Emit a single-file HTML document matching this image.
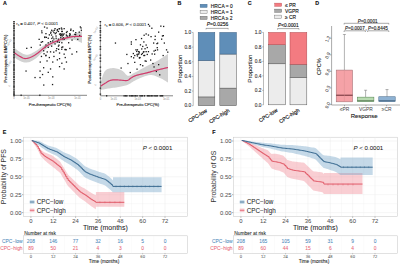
<!DOCTYPE html>
<html><head><meta charset="utf-8"><style>
html,body{margin:0;padding:0;background:#fff;overflow:hidden}
svg{display:block;font-family:"Liberation Sans", sans-serif}
</style></head><body>
<svg width="400" height="264" viewBox="0 0 400 264">
<rect width="400" height="264" fill="#fff"/>
<text x="3.0" y="4.9" font-size="5.3" fill="#111" stroke="#111" stroke-width="0.15" text-anchor="start" font-weight="bold" font-style="normal">A</text>
<text x="177.6" y="4.9" font-size="5.3" fill="#111" stroke="#111" stroke-width="0.15" text-anchor="start" font-weight="bold" font-style="normal">B</text>
<text x="247.8" y="4.9" font-size="5.3" fill="#111" stroke="#111" stroke-width="0.15" text-anchor="start" font-weight="bold" font-style="normal">C</text>
<text x="315.3" y="4.9" font-size="5.3" fill="#111" stroke="#111" stroke-width="0.15" text-anchor="start" font-weight="bold" font-style="normal">D</text>
<text x="2.8" y="134.4" font-size="5.3" fill="#111" stroke="#111" stroke-width="0.15" text-anchor="start" font-weight="bold" font-style="normal">E</text>
<text x="212.3" y="134.0" font-size="5.3" fill="#111" stroke="#111" stroke-width="0.15" text-anchor="start" font-weight="bold" font-style="normal">F</text>
<path d="M14.0,47.5 L14.46,47.86 L15.05,48.35 L15.77,48.93 L16.56,49.57 L17.41,50.24 L18.29,50.89 L19.16,51.49 L20.0,52.0 L20.82,52.47 L21.66,52.96 L22.51,53.44 L23.38,53.89 L24.26,54.27 L25.16,54.57 L26.07,54.75 L27.0,54.8 L27.92,54.71 L28.82,54.53 L29.73,54.24 L30.66,53.86 L31.63,53.39 L32.66,52.83 L33.78,52.2 L35.0,51.5 L36.35,50.66 L37.81,49.66 L39.36,48.55 L40.97,47.37 L42.61,46.17 L44.27,45.01 L45.91,43.94 L47.5,43.0 L49.06,42.18 L50.62,41.42 L52.19,40.72 L53.75,40.08 L55.31,39.47 L56.88,38.89 L58.44,38.34 L60.0,37.8 L61.58,37.3 L63.2,36.85 L64.82,36.43 L66.44,36.04 L68.03,35.67 L69.59,35.29 L71.08,34.91 L72.5,34.5 L73.9,34.05 L75.31,33.56 L76.7,33.05 L78.03,32.54 L79.27,32.06 L80.36,31.63 L81.29,31.27 L82,31 L82,43 L81.29,42.69 L80.36,42.23 L79.27,41.68 L78.03,41.09 L76.7,40.53 L75.31,40.04 L73.9,39.67 L72.5,39.5 L71.08,39.5 L69.59,39.62 L68.03,39.84 L66.44,40.16 L64.82,40.54 L63.2,40.99 L61.58,41.48 L60.0,42.0 L58.44,42.55 L56.88,43.14 L55.31,43.77 L53.75,44.47 L52.19,45.23 L50.62,46.07 L49.06,46.99 L47.5,48.0 L45.91,49.19 L44.27,50.57 L42.61,52.09 L40.97,53.66 L39.36,55.2 L37.81,56.66 L36.35,57.95 L35.0,59.0 L33.78,59.83 L32.66,60.52 L31.63,61.08 L30.66,61.53 L29.73,61.88 L28.82,62.15 L27.92,62.35 L27.0,62.5 L26.07,62.57 L25.16,62.54 L24.26,62.41 L23.38,62.22 L22.51,61.97 L21.66,61.67 L20.82,61.34 L20.0,61.0 L19.16,60.59 L18.29,60.08 L17.41,59.51 L16.56,58.91 L15.77,58.32 L15.05,57.78 L14.46,57.33 L14.0,57.0 Z" fill="#d2d2d2"/>
<rect x="46.4" y="27.4" width="1.3" height="1.3" fill="#1a1a1a" stroke="none" stroke-width="0.4"/>
<rect x="51.0" y="29.6" width="1.3" height="1.3" fill="#1a1a1a" stroke="none" stroke-width="0.4"/>
<rect x="54.4" y="28.0" width="1.3" height="1.3" fill="#1a1a1a" stroke="none" stroke-width="0.4"/>
<rect x="56.7" y="28.9" width="1.3" height="1.3" fill="#1a1a1a" stroke="none" stroke-width="0.4"/>
<rect x="58.9" y="28.0" width="1.3" height="1.3" fill="#1a1a1a" stroke="none" stroke-width="0.4"/>
<rect x="61.2" y="28.5" width="1.3" height="1.3" fill="#1a1a1a" stroke="none" stroke-width="0.4"/>
<rect x="63.5" y="28.0" width="1.3" height="1.3" fill="#1a1a1a" stroke="none" stroke-width="0.4"/>
<rect x="53.3" y="31.9" width="1.3" height="1.3" fill="#1a1a1a" stroke="none" stroke-width="0.4"/>
<rect x="57.8" y="30.8" width="1.3" height="1.3" fill="#1a1a1a" stroke="none" stroke-width="0.4"/>
<rect x="61.2" y="30.8" width="1.3" height="1.3" fill="#1a1a1a" stroke="none" stroke-width="0.4"/>
<rect x="65.8" y="31.9" width="1.3" height="1.3" fill="#1a1a1a" stroke="none" stroke-width="0.4"/>
<rect x="70.3" y="28.5" width="1.3" height="1.3" fill="#1a1a1a" stroke="none" stroke-width="0.4"/>
<rect x="45.3" y="33.0" width="1.3" height="1.3" fill="#1a1a1a" stroke="none" stroke-width="0.4"/>
<rect x="48.7" y="34.2" width="1.3" height="1.3" fill="#1a1a1a" stroke="none" stroke-width="0.4"/>
<rect x="58.9" y="33.5" width="1.3" height="1.3" fill="#1a1a1a" stroke="none" stroke-width="0.4"/>
<rect x="62.4" y="34.2" width="1.3" height="1.3" fill="#1a1a1a" stroke="none" stroke-width="0.4"/>
<rect x="69.2" y="33.0" width="1.3" height="1.3" fill="#1a1a1a" stroke="none" stroke-width="0.4"/>
<rect x="44.2" y="36.4" width="1.3" height="1.3" fill="#1a1a1a" stroke="none" stroke-width="0.4"/>
<rect x="47.6" y="37.6" width="1.3" height="1.3" fill="#1a1a1a" stroke="none" stroke-width="0.4"/>
<rect x="52.1" y="36.4" width="1.3" height="1.3" fill="#1a1a1a" stroke="none" stroke-width="0.4"/>
<rect x="55.5" y="37.6" width="1.3" height="1.3" fill="#1a1a1a" stroke="none" stroke-width="0.4"/>
<rect x="60.1" y="37.1" width="1.3" height="1.3" fill="#1a1a1a" stroke="none" stroke-width="0.4"/>
<rect x="63.5" y="38.7" width="1.3" height="1.3" fill="#1a1a1a" stroke="none" stroke-width="0.4"/>
<rect x="66.9" y="36.4" width="1.3" height="1.3" fill="#1a1a1a" stroke="none" stroke-width="0.4"/>
<rect x="71.4" y="39.4" width="1.3" height="1.3" fill="#1a1a1a" stroke="none" stroke-width="0.4"/>
<rect x="77.1" y="38.7" width="1.3" height="1.3" fill="#1a1a1a" stroke="none" stroke-width="0.4"/>
<rect x="41.9" y="41.0" width="1.3" height="1.3" fill="#1a1a1a" stroke="none" stroke-width="0.4"/>
<rect x="49.9" y="41.0" width="1.3" height="1.3" fill="#1a1a1a" stroke="none" stroke-width="0.4"/>
<rect x="56.7" y="41.0" width="1.3" height="1.3" fill="#1a1a1a" stroke="none" stroke-width="0.4"/>
<rect x="61.2" y="42.1" width="1.3" height="1.3" fill="#1a1a1a" stroke="none" stroke-width="0.4"/>
<rect x="68.0" y="42.1" width="1.3" height="1.3" fill="#1a1a1a" stroke="none" stroke-width="0.4"/>
<rect x="38.5" y="38.7" width="1.3" height="1.3" fill="#1a1a1a" stroke="none" stroke-width="0.4"/>
<rect x="39.6" y="44.4" width="1.3" height="1.3" fill="#1a1a1a" stroke="none" stroke-width="0.4"/>
<rect x="45.3" y="44.4" width="1.3" height="1.3" fill="#1a1a1a" stroke="none" stroke-width="0.4"/>
<rect x="47.6" y="46.7" width="1.3" height="1.3" fill="#1a1a1a" stroke="none" stroke-width="0.4"/>
<rect x="51.0" y="45.5" width="1.3" height="1.3" fill="#1a1a1a" stroke="none" stroke-width="0.4"/>
<rect x="54.4" y="43.3" width="1.3" height="1.3" fill="#1a1a1a" stroke="none" stroke-width="0.4"/>
<rect x="57.8" y="45.5" width="1.3" height="1.3" fill="#1a1a1a" stroke="none" stroke-width="0.4"/>
<rect x="61.2" y="46.7" width="1.3" height="1.3" fill="#1a1a1a" stroke="none" stroke-width="0.4"/>
<rect x="64.6" y="48.9" width="1.3" height="1.3" fill="#1a1a1a" stroke="none" stroke-width="0.4"/>
<rect x="69.2" y="47.8" width="1.3" height="1.3" fill="#1a1a1a" stroke="none" stroke-width="0.4"/>
<rect x="43.0" y="50.1" width="1.3" height="1.3" fill="#1a1a1a" stroke="none" stroke-width="0.4"/>
<rect x="49.9" y="51.2" width="1.3" height="1.3" fill="#1a1a1a" stroke="none" stroke-width="0.4"/>
<rect x="55.5" y="50.1" width="1.3" height="1.3" fill="#1a1a1a" stroke="none" stroke-width="0.4"/>
<rect x="58.9" y="52.4" width="1.3" height="1.3" fill="#1a1a1a" stroke="none" stroke-width="0.4"/>
<rect x="63.5" y="53.5" width="1.3" height="1.3" fill="#1a1a1a" stroke="none" stroke-width="0.4"/>
<rect x="71.4" y="53.5" width="1.3" height="1.3" fill="#1a1a1a" stroke="none" stroke-width="0.4"/>
<rect x="76.0" y="51.2" width="1.3" height="1.3" fill="#1a1a1a" stroke="none" stroke-width="0.4"/>
<rect x="40.8" y="55.8" width="1.3" height="1.3" fill="#1a1a1a" stroke="none" stroke-width="0.4"/>
<rect x="45.3" y="54.6" width="1.3" height="1.3" fill="#1a1a1a" stroke="none" stroke-width="0.4"/>
<rect x="48.7" y="56.9" width="1.3" height="1.3" fill="#1a1a1a" stroke="none" stroke-width="0.4"/>
<rect x="53.3" y="55.8" width="1.3" height="1.3" fill="#1a1a1a" stroke="none" stroke-width="0.4"/>
<rect x="58.9" y="58.0" width="1.3" height="1.3" fill="#1a1a1a" stroke="none" stroke-width="0.4"/>
<rect x="64.6" y="56.9" width="1.3" height="1.3" fill="#1a1a1a" stroke="none" stroke-width="0.4"/>
<rect x="46.4" y="60.3" width="1.3" height="1.3" fill="#1a1a1a" stroke="none" stroke-width="0.4"/>
<rect x="52.1" y="61.4" width="1.3" height="1.3" fill="#1a1a1a" stroke="none" stroke-width="0.4"/>
<rect x="61.2" y="62.6" width="1.3" height="1.3" fill="#1a1a1a" stroke="none" stroke-width="0.4"/>
<rect x="65.8" y="61.4" width="1.3" height="1.3" fill="#1a1a1a" stroke="none" stroke-width="0.4"/>
<rect x="39.6" y="61.4" width="1.3" height="1.3" fill="#1a1a1a" stroke="none" stroke-width="0.4"/>
<rect x="56.7" y="59.2" width="1.3" height="1.3" fill="#1a1a1a" stroke="none" stroke-width="0.4"/>
<rect x="43.0" y="67.1" width="1.3" height="1.3" fill="#1a1a1a" stroke="none" stroke-width="0.4"/>
<rect x="49.9" y="68.3" width="1.3" height="1.3" fill="#1a1a1a" stroke="none" stroke-width="0.4"/>
<rect x="58.9" y="66.0" width="1.3" height="1.3" fill="#1a1a1a" stroke="none" stroke-width="0.4"/>
<rect x="41.9" y="73.9" width="1.3" height="1.3" fill="#1a1a1a" stroke="none" stroke-width="0.4"/>
<rect x="47.6" y="71.7" width="1.3" height="1.3" fill="#1a1a1a" stroke="none" stroke-width="0.4"/>
<rect x="52.1" y="76.2" width="1.3" height="1.3" fill="#1a1a1a" stroke="none" stroke-width="0.4"/>
<rect x="63.5" y="68.3" width="1.3" height="1.3" fill="#1a1a1a" stroke="none" stroke-width="0.4"/>
<rect x="55.4" y="35.4" width="1.3" height="1.3" fill="#1a1a1a" stroke="none" stroke-width="0.4"/>
<rect x="55.6" y="32.1" width="1.3" height="1.3" fill="#1a1a1a" stroke="none" stroke-width="0.4"/>
<rect x="50.0" y="32.5" width="1.3" height="1.3" fill="#1a1a1a" stroke="none" stroke-width="0.4"/>
<rect x="66.3" y="35.1" width="1.3" height="1.3" fill="#1a1a1a" stroke="none" stroke-width="0.4"/>
<rect x="65.7" y="34.4" width="1.3" height="1.3" fill="#1a1a1a" stroke="none" stroke-width="0.4"/>
<rect x="60.6" y="34.1" width="1.3" height="1.3" fill="#1a1a1a" stroke="none" stroke-width="0.4"/>
<rect x="44.1" y="36.8" width="1.3" height="1.3" fill="#1a1a1a" stroke="none" stroke-width="0.4"/>
<rect x="61.5" y="35.4" width="1.3" height="1.3" fill="#1a1a1a" stroke="none" stroke-width="0.4"/>
<rect x="43.9" y="26.4" width="1.3" height="1.3" fill="#1a1a1a" stroke="none" stroke-width="0.4"/>
<rect x="50.3" y="31.5" width="1.3" height="1.3" fill="#1a1a1a" stroke="none" stroke-width="0.4"/>
<rect x="59.8" y="33.2" width="1.3" height="1.3" fill="#1a1a1a" stroke="none" stroke-width="0.4"/>
<rect x="61.6" y="30.8" width="1.3" height="1.3" fill="#1a1a1a" stroke="none" stroke-width="0.4"/>
<rect x="59.9" y="35.0" width="1.3" height="1.3" fill="#1a1a1a" stroke="none" stroke-width="0.4"/>
<rect x="52.1" y="40.3" width="1.3" height="1.3" fill="#1a1a1a" stroke="none" stroke-width="0.4"/>
<rect x="61.9" y="38.2" width="1.3" height="1.3" fill="#1a1a1a" stroke="none" stroke-width="0.4"/>
<rect x="52.4" y="30.4" width="1.3" height="1.3" fill="#1a1a1a" stroke="none" stroke-width="0.4"/>
<rect x="54.6" y="33.0" width="1.3" height="1.3" fill="#1a1a1a" stroke="none" stroke-width="0.4"/>
<rect x="62.5" y="34.4" width="1.3" height="1.3" fill="#1a1a1a" stroke="none" stroke-width="0.4"/>
<rect x="53.8" y="29.6" width="1.3" height="1.3" fill="#1a1a1a" stroke="none" stroke-width="0.4"/>
<rect x="53.2" y="38.3" width="1.3" height="1.3" fill="#1a1a1a" stroke="none" stroke-width="0.4"/>
<rect x="50.9" y="34.4" width="1.3" height="1.3" fill="#1a1a1a" stroke="none" stroke-width="0.4"/>
<rect x="60.8" y="27.4" width="1.3" height="1.3" fill="#1a1a1a" stroke="none" stroke-width="0.4"/>
<rect x="57.8" y="38.6" width="1.3" height="1.3" fill="#1a1a1a" stroke="none" stroke-width="0.4"/>
<rect x="41.3" y="32.1" width="1.3" height="1.3" fill="#1a1a1a" stroke="none" stroke-width="0.4"/>
<rect x="56.6" y="30.1" width="1.3" height="1.3" fill="#1a1a1a" stroke="none" stroke-width="0.4"/>
<rect x="61.4" y="33.2" width="1.3" height="1.3" fill="#1a1a1a" stroke="none" stroke-width="0.4"/>
<rect x="45.7" y="36.7" width="1.3" height="1.3" fill="#1a1a1a" stroke="none" stroke-width="0.4"/>
<rect x="62.8" y="37.2" width="1.3" height="1.3" fill="#1a1a1a" stroke="none" stroke-width="0.4"/>
<rect x="68.9" y="34.8" width="1.3" height="1.3" fill="#1a1a1a" stroke="none" stroke-width="0.4"/>
<rect x="58.4" y="28.2" width="1.3" height="1.3" fill="#1a1a1a" stroke="none" stroke-width="0.4"/>
<rect x="58.7" y="41.7" width="1.3" height="1.3" fill="#1a1a1a" stroke="none" stroke-width="0.4"/>
<rect x="51.2" y="37.8" width="1.3" height="1.3" fill="#1a1a1a" stroke="none" stroke-width="0.4"/>
<rect x="47.6" y="42.2" width="1.3" height="1.3" fill="#1a1a1a" stroke="none" stroke-width="0.4"/>
<rect x="63.4" y="33.2" width="1.3" height="1.3" fill="#1a1a1a" stroke="none" stroke-width="0.4"/>
<rect x="44.2" y="46.8" width="1.3" height="1.3" fill="#1a1a1a" stroke="none" stroke-width="0.4"/>
<rect x="64.5" y="48.9" width="1.3" height="1.3" fill="#1a1a1a" stroke="none" stroke-width="0.4"/>
<rect x="41.1" y="30.3" width="1.3" height="1.3" fill="#1a1a1a" stroke="none" stroke-width="0.4"/>
<rect x="56.9" y="41.0" width="1.3" height="1.3" fill="#1a1a1a" stroke="none" stroke-width="0.4"/>
<rect x="46.6" y="51.3" width="1.3" height="1.3" fill="#1a1a1a" stroke="none" stroke-width="0.4"/>
<rect x="62.1" y="46.3" width="1.3" height="1.3" fill="#1a1a1a" stroke="none" stroke-width="0.4"/>
<rect x="56.1" y="48.0" width="1.3" height="1.3" fill="#1a1a1a" stroke="none" stroke-width="0.4"/>
<rect x="65.6" y="49.1" width="1.3" height="1.3" fill="#1a1a1a" stroke="none" stroke-width="0.4"/>
<rect x="58.0" y="48.7" width="1.3" height="1.3" fill="#1a1a1a" stroke="none" stroke-width="0.4"/>
<rect x="43.4" y="53.1" width="1.3" height="1.3" fill="#1a1a1a" stroke="none" stroke-width="0.4"/>
<rect x="61.1" y="48.6" width="1.3" height="1.3" fill="#1a1a1a" stroke="none" stroke-width="0.4"/>
<rect x="40.6" y="41.6" width="1.3" height="1.3" fill="#1a1a1a" stroke="none" stroke-width="0.4"/>
<rect x="60.3" y="34.5" width="1.3" height="1.3" fill="#1a1a1a" stroke="none" stroke-width="0.4"/>
<rect x="53.1" y="51.5" width="1.3" height="1.3" fill="#1a1a1a" stroke="none" stroke-width="0.4"/>
<rect x="45.2" y="55.1" width="1.3" height="1.3" fill="#1a1a1a" stroke="none" stroke-width="0.4"/>
<rect x="58.3" y="44.5" width="1.3" height="1.3" fill="#1a1a1a" stroke="none" stroke-width="0.4"/>
<rect x="75.0" y="34.0" width="1.3" height="1.3" fill="#1a1a1a" stroke="none" stroke-width="0.4"/>
<rect x="74.0" y="36.0" width="1.3" height="1.3" fill="#1a1a1a" stroke="none" stroke-width="0.4"/>
<rect x="70.1" y="29.7" width="1.3" height="1.3" fill="#1a1a1a" stroke="none" stroke-width="0.4"/>
<rect x="78.6" y="31.5" width="1.3" height="1.3" fill="#1a1a1a" stroke="none" stroke-width="0.4"/>
<rect x="69.0" y="35.2" width="1.3" height="1.3" fill="#1a1a1a" stroke="none" stroke-width="0.4"/>
<rect x="80.7" y="29.6" width="1.3" height="1.3" fill="#1a1a1a" stroke="none" stroke-width="0.4"/>
<rect x="66.5" y="30.9" width="1.3" height="1.3" fill="#1a1a1a" stroke="none" stroke-width="0.4"/>
<rect x="72.7" y="30.2" width="1.3" height="1.3" fill="#1a1a1a" stroke="none" stroke-width="0.4"/>
<rect x="80.4" y="27.3" width="1.3" height="1.3" fill="#1a1a1a" stroke="none" stroke-width="0.4"/>
<rect x="79.7" y="26.3" width="1.3" height="1.3" fill="#1a1a1a" stroke="none" stroke-width="0.4"/>
<rect x="69.5" y="33.9" width="1.3" height="1.3" fill="#1a1a1a" stroke="none" stroke-width="0.4"/>
<rect x="79.0" y="34.8" width="1.3" height="1.3" fill="#1a1a1a" stroke="none" stroke-width="0.4"/>
<rect x="75.1" y="32.0" width="1.3" height="1.3" fill="#1a1a1a" stroke="none" stroke-width="0.4"/>
<rect x="74.2" y="33.7" width="1.3" height="1.3" fill="#1a1a1a" stroke="none" stroke-width="0.4"/>
<rect x="26.1" y="47.7" width="1.3" height="1.3" fill="#1a1a1a" stroke="none" stroke-width="0.4"/>
<rect x="30.6" y="46.8" width="1.3" height="1.3" fill="#1a1a1a" stroke="none" stroke-width="0.4"/>
<rect x="25.4" y="70.4" width="1.3" height="1.3" fill="#1a1a1a" stroke="none" stroke-width="0.4"/>
<rect x="34.4" y="76.9" width="1.3" height="1.3" fill="#1a1a1a" stroke="none" stroke-width="0.4"/>
<rect x="39.4" y="70.4" width="1.3" height="1.3" fill="#1a1a1a" stroke="none" stroke-width="0.4"/>
<rect x="39.4" y="76.9" width="1.3" height="1.3" fill="#1a1a1a" stroke="none" stroke-width="0.4"/>
<rect x="43.1" y="84.4" width="1.3" height="1.3" fill="#1a1a1a" stroke="none" stroke-width="0.4"/>
<rect x="51.9" y="83.9" width="1.3" height="1.3" fill="#1a1a1a" stroke="none" stroke-width="0.4"/>
<path d="M14.0,52.5 L14.46,52.82 L15.08,53.27 L15.81,53.79 L16.62,54.38 L17.49,54.97 L18.36,55.55 L19.21,56.07 L20.0,56.5 L20.73,56.88 L21.43,57.27 L22.12,57.64 L22.81,57.97 L23.53,58.24 L24.29,58.43 L25.11,58.53 L26.0,58.5 L26.96,58.37 L27.96,58.15 L29.0,57.85 L30.09,57.47 L31.24,56.99 L32.43,56.43 L33.69,55.76 L35.0,55.0 L36.4,54.07 L37.88,52.96 L39.43,51.71 L41.03,50.39 L42.66,49.05 L44.29,47.75 L45.91,46.55 L47.5,45.5 L49.06,44.59 L50.62,43.75 L52.19,42.97 L53.75,42.25 L55.31,41.58 L56.88,40.95 L58.44,40.36 L60.0,39.8 L61.58,39.27 L63.2,38.78 L64.82,38.33 L66.44,37.92 L68.03,37.55 L69.59,37.22 L71.08,36.94 L72.5,36.7 L73.9,36.52 L75.31,36.4 L76.7,36.33 L78.03,36.31 L79.27,36.3 L80.36,36.31 L81.29,36.31 L82,36.3" fill="none" stroke="#d0386a" stroke-width="1.2"/>
<rect x="13.25" y="21" width="1.5" height="1.3" fill="#1e1e1e" stroke="none" stroke-width="0.4"/>
<rect x="13.25" y="23" width="1.5" height="1.3" fill="#1e1e1e" stroke="none" stroke-width="0.4"/>
<rect x="13.25" y="25" width="1.5" height="1.3" fill="#1e1e1e" stroke="none" stroke-width="0.4"/>
<rect x="13.25" y="26.3" width="1.5" height="1.3" fill="#1e1e1e" stroke="none" stroke-width="0.4"/>
<rect x="13.25" y="27.8" width="1.5" height="1.3" fill="#1e1e1e" stroke="none" stroke-width="0.4"/>
<rect x="13.25" y="29.8" width="1.5" height="1.3" fill="#1e1e1e" stroke="none" stroke-width="0.4"/>
<rect x="13.25" y="31.3" width="1.5" height="1.3" fill="#1e1e1e" stroke="none" stroke-width="0.4"/>
<rect x="13.25" y="33.3" width="1.5" height="1.3" fill="#1e1e1e" stroke="none" stroke-width="0.4"/>
<rect x="13.25" y="34.6" width="1.5" height="1.3" fill="#1e1e1e" stroke="none" stroke-width="0.4"/>
<rect x="13.25" y="36.6" width="1.5" height="1.3" fill="#1e1e1e" stroke="none" stroke-width="0.4"/>
<rect x="13.25" y="37.9" width="1.5" height="1.3" fill="#1e1e1e" stroke="none" stroke-width="0.4"/>
<rect x="13.25" y="39.4" width="1.5" height="1.3" fill="#1e1e1e" stroke="none" stroke-width="0.4"/>
<rect x="13.25" y="41.4" width="1.5" height="1.3" fill="#1e1e1e" stroke="none" stroke-width="0.4"/>
<rect x="13.25" y="42.7" width="1.5" height="1.3" fill="#1e1e1e" stroke="none" stroke-width="0.4"/>
<rect x="13.25" y="44.2" width="1.5" height="1.3" fill="#1e1e1e" stroke="none" stroke-width="0.4"/>
<rect x="13.25" y="45.5" width="1.5" height="1.3" fill="#1e1e1e" stroke="none" stroke-width="0.4"/>
<rect x="13.25" y="47.0" width="1.5" height="1.3" fill="#1e1e1e" stroke="none" stroke-width="0.4"/>
<rect x="13.25" y="49.0" width="1.5" height="1.3" fill="#1e1e1e" stroke="none" stroke-width="0.4"/>
<rect x="13.25" y="50.5" width="1.5" height="1.3" fill="#1e1e1e" stroke="none" stroke-width="0.4"/>
<rect x="13.25" y="51.8" width="1.5" height="1.3" fill="#1e1e1e" stroke="none" stroke-width="0.4"/>
<rect x="13.25" y="53.8" width="1.5" height="1.3" fill="#1e1e1e" stroke="none" stroke-width="0.4"/>
<rect x="13.25" y="55.3" width="1.5" height="1.3" fill="#1e1e1e" stroke="none" stroke-width="0.4"/>
<rect x="13.25" y="56.8" width="1.5" height="1.3" fill="#1e1e1e" stroke="none" stroke-width="0.4"/>
<rect x="13.25" y="58.3" width="1.5" height="1.3" fill="#1e1e1e" stroke="none" stroke-width="0.4"/>
<rect x="13.25" y="60.3" width="1.5" height="1.3" fill="#1e1e1e" stroke="none" stroke-width="0.4"/>
<rect x="13.25" y="61.6" width="1.5" height="1.3" fill="#1e1e1e" stroke="none" stroke-width="0.4"/>
<rect x="13.25" y="63.6" width="1.5" height="1.3" fill="#1e1e1e" stroke="none" stroke-width="0.4"/>
<rect x="13.25" y="64.9" width="1.5" height="1.3" fill="#1e1e1e" stroke="none" stroke-width="0.4"/>
<rect x="13.25" y="66.2" width="1.5" height="1.3" fill="#1e1e1e" stroke="none" stroke-width="0.4"/>
<rect x="13.25" y="67.5" width="1.5" height="1.3" fill="#1e1e1e" stroke="none" stroke-width="0.4"/>
<rect x="13.25" y="68.8" width="1.5" height="1.3" fill="#1e1e1e" stroke="none" stroke-width="0.4"/>
<rect x="13.25" y="70.1" width="1.5" height="1.3" fill="#1e1e1e" stroke="none" stroke-width="0.4"/>
<rect x="13.25" y="72.1" width="1.5" height="1.3" fill="#1e1e1e" stroke="none" stroke-width="0.4"/>
<rect x="13.25" y="73.6" width="1.5" height="1.3" fill="#1e1e1e" stroke="none" stroke-width="0.4"/>
<rect x="13.25" y="75.6" width="1.5" height="1.3" fill="#1e1e1e" stroke="none" stroke-width="0.4"/>
<rect x="13.25" y="76.9" width="1.5" height="1.3" fill="#1e1e1e" stroke="none" stroke-width="0.4"/>
<rect x="13.25" y="78.9" width="1.5" height="1.3" fill="#1e1e1e" stroke="none" stroke-width="0.4"/>
<rect x="13.25" y="80.9" width="1.5" height="1.3" fill="#1e1e1e" stroke="none" stroke-width="0.4"/>
<rect x="13.25" y="82.4" width="1.5" height="1.3" fill="#1e1e1e" stroke="none" stroke-width="0.4"/>
<rect x="13.25" y="84.4" width="1.5" height="1.3" fill="#1e1e1e" stroke="none" stroke-width="0.4"/>
<rect x="13.25" y="85.9" width="1.5" height="1.3" fill="#1e1e1e" stroke="none" stroke-width="0.4"/>
<rect x="13.25" y="87.2" width="1.5" height="1.3" fill="#1e1e1e" stroke="none" stroke-width="0.4"/>
<rect x="13.25" y="89.2" width="1.5" height="1.3" fill="#1e1e1e" stroke="none" stroke-width="0.4"/>
<rect x="13.25" y="91.2" width="1.5" height="1.3" fill="#1e1e1e" stroke="none" stroke-width="0.4"/>
<rect x="13.25" y="92.5" width="1.5" height="1.3" fill="#1e1e1e" stroke="none" stroke-width="0.4"/>
<rect x="13.25" y="93.8" width="1.5" height="1.3" fill="#1e1e1e" stroke="none" stroke-width="0.4"/>
<rect x="13.25" y="95.1" width="1.5" height="1.3" fill="#1e1e1e" stroke="none" stroke-width="0.4"/>
<rect x="39.2" y="94.55" width="1.3" height="1.5" fill="#262626" stroke="none" stroke-width="0.4"/>
<rect x="20.5" y="94.55" width="1.3" height="1.5" fill="#262626" stroke="none" stroke-width="0.4"/>
<line x1="14" y1="21" x2="14" y2="95.3" stroke="#444" stroke-width="0.55"/>
<line x1="14" y1="95.3" x2="87" y2="95.3" stroke="#333" stroke-width="0.6"/>
<text x="16.2" y="25.3" font-size="4.3" fill="#333" stroke="#333" stroke-width="0.06" text-anchor="start" font-weight="normal" font-style="normal">r<tspan font-size="3" dy="0.8">s</tspan><tspan dy="-0.8"> = 0.407, </tspan><tspan font-style="italic">P</tspan> &lt; 0.0001</text>
<text x="6.8" y="58.6" font-size="4.15" fill="#2a2a2a" stroke="#2a2a2a" stroke-width="0.13" text-anchor="middle" font-weight="normal" font-style="normal" transform="rotate(-90 6.8 58.6)">Pre-therapeutic BMPC(%)</text>
<text x="10" y="43" font-size="2.6" fill="#888" text-anchor="middle" font-weight="normal" font-style="normal" transform="rotate(-60 10 43)">1e+02</text>
<text x="10" y="64.5" font-size="2.6" fill="#888" text-anchor="middle" font-weight="normal" font-style="normal" transform="rotate(-60 10 64.5)">1e+00</text>
<text x="10" y="86" font-size="2.6" fill="#888" text-anchor="middle" font-weight="normal" font-style="normal" transform="rotate(-60 10 86)">0</text>
<text x="14" y="99.3" font-size="2.6" fill="#888" text-anchor="middle" font-weight="normal" font-style="normal">0</text>
<text x="26.5" y="99.3" font-size="2.6" fill="#888" text-anchor="middle" font-weight="normal" font-style="normal">1e-05</text>
<text x="51.25" y="99.3" font-size="2.6" fill="#888" text-anchor="middle" font-weight="normal" font-style="normal">1e-03</text>
<text x="77.5" y="99.3" font-size="2.6" fill="#888" text-anchor="middle" font-weight="normal" font-style="normal">1e-01</text>
<text x="50.0" y="105.89999999999999" font-size="3.95" fill="#222" stroke="#222" stroke-width="0.12" text-anchor="middle" font-weight="normal" font-style="normal">Pre-therapeutic CPC(%)</text>
<path d="M100.5,82.5 L100.83,81.55 L101.23,80.23 L101.72,78.65 L102.27,76.93 L102.88,75.19 L103.54,73.54 L104.25,72.1 L105.0,71.0 L105.8,70.19 L106.67,69.55 L107.59,69.05 L108.56,68.69 L109.57,68.43 L110.6,68.26 L111.65,68.15 L112.7,68.1 L113.79,68.12 L114.95,68.24 L116.15,68.45 L117.36,68.74 L118.55,69.09 L119.71,69.49 L120.8,69.93 L121.8,70.4 L122.7,70.97 L123.51,71.7 L124.27,72.52 L124.98,73.36 L125.67,74.17 L126.36,74.87 L127.06,75.4 L127.8,75.7 L128.51,75.78 L129.15,75.7 L129.77,75.48 L130.4,75.15 L131.09,74.72 L131.9,74.2 L132.85,73.62 L134.0,73.0 L135.41,72.27 L137.07,71.39 L138.9,70.41 L140.82,69.36 L142.77,68.3 L144.67,67.28 L146.44,66.33 L148.0,65.5 L149.35,64.81 L150.55,64.22 L151.65,63.7 L152.69,63.22 L153.7,62.74 L154.73,62.23 L155.81,61.66 L157.0,61.0 L158.35,60.2 L159.87,59.26 L161.46,58.25 L163.06,57.22 L164.59,56.22 L165.98,55.32 L167.14,54.56 L168,54 L168,82.5 L167.4,82.14 L166.61,81.66 L165.67,81.08 L164.62,80.44 L163.5,79.78 L162.33,79.12 L161.15,78.52 L160.0,78.0 L158.87,77.5 L157.73,76.96 L156.57,76.41 L155.38,75.91 L154.13,75.47 L152.83,75.15 L151.46,74.98 L150.0,75.0 L148.4,75.24 L146.65,75.69 L144.79,76.3 L142.89,77.01 L141.0,77.79 L139.19,78.58 L137.5,79.33 L136.0,80.0 L134.7,80.63 L133.56,81.27 L132.54,81.93 L131.59,82.57 L130.69,83.2 L129.78,83.79 L128.83,84.33 L127.8,84.8 L126.72,85.2 L125.63,85.55 L124.52,85.84 L123.41,86.1 L122.27,86.33 L121.11,86.55 L119.92,86.77 L118.7,87.0 L117.42,87.23 L116.06,87.45 L114.66,87.65 L113.25,87.85 L111.85,88.04 L110.49,88.23 L109.2,88.41 L108.0,88.6 L106.86,88.79 L105.72,89.0 L104.62,89.2 L103.58,89.4 L102.62,89.59 L101.77,89.75 L101.06,89.89 L100.5,90.0 Z" fill="#d2d2d2"/>
<rect x="147.8" y="23.8" width="1.3" height="1.3" fill="#1a1a1a" stroke="none" stroke-width="0.4"/>
<rect x="148.9" y="25.4" width="1.3" height="1.3" fill="#1a1a1a" stroke="none" stroke-width="0.4"/>
<rect x="151.2" y="27.6" width="1.3" height="1.3" fill="#1a1a1a" stroke="none" stroke-width="0.4"/>
<rect x="145.5" y="33.3" width="1.3" height="1.3" fill="#1a1a1a" stroke="none" stroke-width="0.4"/>
<rect x="147.8" y="34.4" width="1.3" height="1.3" fill="#1a1a1a" stroke="none" stroke-width="0.4"/>
<rect x="158.0" y="31.5" width="1.3" height="1.3" fill="#1a1a1a" stroke="none" stroke-width="0.4"/>
<rect x="154.6" y="35.6" width="1.3" height="1.3" fill="#1a1a1a" stroke="none" stroke-width="0.4"/>
<rect x="140.9" y="37.9" width="1.3" height="1.3" fill="#1a1a1a" stroke="none" stroke-width="0.4"/>
<rect x="135.3" y="39.0" width="1.3" height="1.3" fill="#1a1a1a" stroke="none" stroke-width="0.4"/>
<rect x="130.7" y="41.3" width="1.3" height="1.3" fill="#1a1a1a" stroke="none" stroke-width="0.4"/>
<rect x="143.2" y="41.3" width="1.3" height="1.3" fill="#1a1a1a" stroke="none" stroke-width="0.4"/>
<rect x="130.7" y="43.5" width="1.3" height="1.3" fill="#1a1a1a" stroke="none" stroke-width="0.4"/>
<rect x="139.8" y="44.2" width="1.3" height="1.3" fill="#1a1a1a" stroke="none" stroke-width="0.4"/>
<rect x="142.1" y="45.8" width="1.3" height="1.3" fill="#1a1a1a" stroke="none" stroke-width="0.4"/>
<rect x="144.4" y="48.1" width="1.3" height="1.3" fill="#1a1a1a" stroke="none" stroke-width="0.4"/>
<rect x="146.6" y="46.9" width="1.3" height="1.3" fill="#1a1a1a" stroke="none" stroke-width="0.4"/>
<rect x="135.3" y="49.2" width="1.3" height="1.3" fill="#1a1a1a" stroke="none" stroke-width="0.4"/>
<rect x="138.7" y="51.5" width="1.3" height="1.3" fill="#1a1a1a" stroke="none" stroke-width="0.4"/>
<rect x="143.2" y="51.0" width="1.3" height="1.3" fill="#1a1a1a" stroke="none" stroke-width="0.4"/>
<rect x="145.5" y="51.0" width="1.3" height="1.3" fill="#1a1a1a" stroke="none" stroke-width="0.4"/>
<rect x="147.8" y="51.0" width="1.3" height="1.3" fill="#1a1a1a" stroke="none" stroke-width="0.4"/>
<rect x="136.4" y="53.8" width="1.3" height="1.3" fill="#1a1a1a" stroke="none" stroke-width="0.4"/>
<rect x="140.9" y="53.8" width="1.3" height="1.3" fill="#1a1a1a" stroke="none" stroke-width="0.4"/>
<rect x="134.1" y="54.9" width="1.3" height="1.3" fill="#1a1a1a" stroke="none" stroke-width="0.4"/>
<rect x="130.7" y="56.0" width="1.3" height="1.3" fill="#1a1a1a" stroke="none" stroke-width="0.4"/>
<rect x="133.0" y="57.2" width="1.3" height="1.3" fill="#1a1a1a" stroke="none" stroke-width="0.4"/>
<rect x="138.7" y="57.2" width="1.3" height="1.3" fill="#1a1a1a" stroke="none" stroke-width="0.4"/>
<rect x="143.2" y="54.9" width="1.3" height="1.3" fill="#1a1a1a" stroke="none" stroke-width="0.4"/>
<rect x="146.6" y="53.8" width="1.3" height="1.3" fill="#1a1a1a" stroke="none" stroke-width="0.4"/>
<rect x="153.4" y="50.4" width="1.3" height="1.3" fill="#1a1a1a" stroke="none" stroke-width="0.4"/>
<rect x="156.9" y="49.2" width="1.3" height="1.3" fill="#1a1a1a" stroke="none" stroke-width="0.4"/>
<rect x="163.7" y="42.4" width="1.3" height="1.3" fill="#1a1a1a" stroke="none" stroke-width="0.4"/>
<rect x="165.9" y="49.2" width="1.3" height="1.3" fill="#1a1a1a" stroke="none" stroke-width="0.4"/>
<rect x="167.1" y="51.5" width="1.3" height="1.3" fill="#1a1a1a" stroke="none" stroke-width="0.4"/>
<rect x="162.5" y="54.9" width="1.3" height="1.3" fill="#1a1a1a" stroke="none" stroke-width="0.4"/>
<rect x="126.2" y="53.8" width="1.3" height="1.3" fill="#1a1a1a" stroke="none" stroke-width="0.4"/>
<rect x="120.5" y="67.4" width="1.3" height="1.3" fill="#1a1a1a" stroke="none" stroke-width="0.4"/>
<rect x="127.3" y="62.9" width="1.3" height="1.3" fill="#1a1a1a" stroke="none" stroke-width="0.4"/>
<rect x="134.1" y="61.7" width="1.3" height="1.3" fill="#1a1a1a" stroke="none" stroke-width="0.4"/>
<rect x="139.8" y="64.0" width="1.3" height="1.3" fill="#1a1a1a" stroke="none" stroke-width="0.4"/>
<rect x="150.0" y="59.4" width="1.3" height="1.3" fill="#1a1a1a" stroke="none" stroke-width="0.4"/>
<rect x="152.3" y="62.9" width="1.3" height="1.3" fill="#1a1a1a" stroke="none" stroke-width="0.4"/>
<rect x="158.0" y="64.0" width="1.3" height="1.3" fill="#1a1a1a" stroke="none" stroke-width="0.4"/>
<rect x="153.4" y="66.3" width="1.3" height="1.3" fill="#1a1a1a" stroke="none" stroke-width="0.4"/>
<rect x="136.4" y="68.5" width="1.3" height="1.3" fill="#1a1a1a" stroke="none" stroke-width="0.4"/>
<rect x="129.6" y="71.9" width="1.3" height="1.3" fill="#1a1a1a" stroke="none" stroke-width="0.4"/>
<rect x="114.8" y="42.4" width="1.3" height="1.3" fill="#1a1a1a" stroke="none" stroke-width="0.4"/>
<rect x="155.7" y="70.8" width="1.3" height="1.3" fill="#1a1a1a" stroke="none" stroke-width="0.4"/>
<rect x="159.1" y="74.2" width="1.3" height="1.3" fill="#1a1a1a" stroke="none" stroke-width="0.4"/>
<rect x="142.1" y="65.1" width="1.3" height="1.3" fill="#1a1a1a" stroke="none" stroke-width="0.4"/>
<rect x="145.5" y="60.6" width="1.3" height="1.3" fill="#1a1a1a" stroke="none" stroke-width="0.4"/>
<rect x="138.3" y="53.1" width="1.3" height="1.3" fill="#1a1a1a" stroke="none" stroke-width="0.4"/>
<rect x="142.8" y="51.4" width="1.3" height="1.3" fill="#1a1a1a" stroke="none" stroke-width="0.4"/>
<rect x="144.0" y="54.8" width="1.3" height="1.3" fill="#1a1a1a" stroke="none" stroke-width="0.4"/>
<rect x="151.5" y="53.3" width="1.3" height="1.3" fill="#1a1a1a" stroke="none" stroke-width="0.4"/>
<rect x="136.8" y="49.2" width="1.3" height="1.3" fill="#1a1a1a" stroke="none" stroke-width="0.4"/>
<rect x="139.3" y="56.9" width="1.3" height="1.3" fill="#1a1a1a" stroke="none" stroke-width="0.4"/>
<rect x="137.4" y="53.7" width="1.3" height="1.3" fill="#1a1a1a" stroke="none" stroke-width="0.4"/>
<rect x="150.4" y="36.0" width="1.3" height="1.3" fill="#1a1a1a" stroke="none" stroke-width="0.4"/>
<rect x="132.7" y="52.9" width="1.3" height="1.3" fill="#1a1a1a" stroke="none" stroke-width="0.4"/>
<rect x="141.8" y="52.8" width="1.3" height="1.3" fill="#1a1a1a" stroke="none" stroke-width="0.4"/>
<rect x="136.8" y="55.3" width="1.3" height="1.3" fill="#1a1a1a" stroke="none" stroke-width="0.4"/>
<rect x="141.1" y="48.3" width="1.3" height="1.3" fill="#1a1a1a" stroke="none" stroke-width="0.4"/>
<rect x="154.0" y="53.5" width="1.3" height="1.3" fill="#1a1a1a" stroke="none" stroke-width="0.4"/>
<rect x="136.1" y="50.8" width="1.3" height="1.3" fill="#1a1a1a" stroke="none" stroke-width="0.4"/>
<rect x="138.0" y="51.0" width="1.3" height="1.3" fill="#1a1a1a" stroke="none" stroke-width="0.4"/>
<rect x="145.5" y="44.4" width="1.3" height="1.3" fill="#1a1a1a" stroke="none" stroke-width="0.4"/>
<rect x="139.0" y="57.1" width="1.3" height="1.3" fill="#1a1a1a" stroke="none" stroke-width="0.4"/>
<rect x="144.5" y="60.3" width="1.3" height="1.3" fill="#1a1a1a" stroke="none" stroke-width="0.4"/>
<rect x="143.5" y="34.6" width="1.3" height="1.3" fill="#1a1a1a" stroke="none" stroke-width="0.4"/>
<rect x="153.0" y="42.4" width="1.3" height="1.3" fill="#1a1a1a" stroke="none" stroke-width="0.4"/>
<rect x="163.0" y="25.8" width="1.3" height="1.3" fill="#1a1a1a" stroke="none" stroke-width="0.4"/>
<rect x="160.2" y="25.5" width="1.3" height="1.3" fill="#1a1a1a" stroke="none" stroke-width="0.4"/>
<rect x="156.6" y="47.0" width="1.3" height="1.3" fill="#1a1a1a" stroke="none" stroke-width="0.4"/>
<rect x="154.4" y="38.9" width="1.3" height="1.3" fill="#1a1a1a" stroke="none" stroke-width="0.4"/>
<rect x="161.0" y="38.5" width="1.3" height="1.3" fill="#1a1a1a" stroke="none" stroke-width="0.4"/>
<rect x="154.8" y="49.7" width="1.3" height="1.3" fill="#1a1a1a" stroke="none" stroke-width="0.4"/>
<rect x="162.7" y="35.0" width="1.3" height="1.3" fill="#1a1a1a" stroke="none" stroke-width="0.4"/>
<rect x="161.8" y="35.3" width="1.3" height="1.3" fill="#1a1a1a" stroke="none" stroke-width="0.4"/>
<rect x="156.3" y="43.0" width="1.3" height="1.3" fill="#1a1a1a" stroke="none" stroke-width="0.4"/>
<rect x="157.0" y="42.5" width="1.3" height="1.3" fill="#1a1a1a" stroke="none" stroke-width="0.4"/>
<path d="M100.5,86.3 L100.84,86.07 L101.27,85.76 L101.79,85.4 L102.38,84.99 L103.0,84.56 L103.66,84.13 L104.33,83.7 L105.0,83.3 L105.67,82.9 L106.35,82.46 L107.07,82.02 L107.8,81.58 L108.56,81.15 L109.35,80.77 L110.16,80.45 L111.0,80.2 L111.88,80.03 L112.79,79.93 L113.74,79.88 L114.71,79.88 L115.69,79.9 L116.69,79.93 L117.7,79.97 L118.7,80.0 L119.74,80.05 L120.83,80.15 L121.96,80.27 L123.08,80.39 L124.18,80.5 L125.21,80.57 L126.16,80.58 L127.0,80.5 L127.7,80.33 L128.28,80.09 L128.77,79.78 L129.21,79.44 L129.62,79.07 L130.03,78.7 L130.48,78.33 L131.0,78.0 L131.54,77.69 L132.04,77.38 L132.54,77.07 L133.06,76.76 L133.64,76.45 L134.3,76.14 L135.08,75.82 L136.0,75.5 L137.09,75.17 L138.33,74.85 L139.69,74.52 L141.12,74.18 L142.61,73.84 L144.11,73.5 L145.58,73.15 L147.0,72.8 L148.38,72.43 L149.77,72.05 L151.17,71.67 L152.56,71.28 L153.95,70.89 L155.32,70.51 L156.67,70.14 L158.0,69.8 L159.37,69.46 L160.8,69.12 L162.26,68.79 L163.69,68.46 L165.03,68.16 L166.23,67.9 L167.24,67.67 L168,67.5" fill="none" stroke="#d0386a" stroke-width="1.2"/>
<rect x="99.65" y="21" width="1.5" height="1.3" fill="#1e1e1e" stroke="none" stroke-width="0.4"/>
<rect x="99.65" y="25" width="1.5" height="1.3" fill="#1e1e1e" stroke="none" stroke-width="0.4"/>
<rect x="99.65" y="27.5" width="1.5" height="1.3" fill="#1e1e1e" stroke="none" stroke-width="0.4"/>
<rect x="99.65" y="30.0" width="1.5" height="1.3" fill="#1e1e1e" stroke="none" stroke-width="0.4"/>
<rect x="99.65" y="31.5" width="1.5" height="1.3" fill="#1e1e1e" stroke="none" stroke-width="0.4"/>
<rect x="99.65" y="34.5" width="1.5" height="1.3" fill="#1e1e1e" stroke="none" stroke-width="0.4"/>
<rect x="99.65" y="37.0" width="1.5" height="1.3" fill="#1e1e1e" stroke="none" stroke-width="0.4"/>
<rect x="99.65" y="40.0" width="1.5" height="1.3" fill="#1e1e1e" stroke="none" stroke-width="0.4"/>
<rect x="99.65" y="46.0" width="1.5" height="1.3" fill="#1e1e1e" stroke="none" stroke-width="0.4"/>
<rect x="99.65" y="48.5" width="1.5" height="1.3" fill="#1e1e1e" stroke="none" stroke-width="0.4"/>
<rect x="99.65" y="54.5" width="1.5" height="1.3" fill="#1e1e1e" stroke="none" stroke-width="0.4"/>
<rect x="99.65" y="57.5" width="1.5" height="1.3" fill="#1e1e1e" stroke="none" stroke-width="0.4"/>
<rect x="99.65" y="60.5" width="1.5" height="1.3" fill="#1e1e1e" stroke="none" stroke-width="0.4"/>
<rect x="99.65" y="66.5" width="1.5" height="1.3" fill="#1e1e1e" stroke="none" stroke-width="0.4"/>
<rect x="99.65" y="70.5" width="1.5" height="1.3" fill="#1e1e1e" stroke="none" stroke-width="0.4"/>
<rect x="99.65" y="73.0" width="1.5" height="1.3" fill="#1e1e1e" stroke="none" stroke-width="0.4"/>
<rect x="99.65" y="74.5" width="1.5" height="1.3" fill="#1e1e1e" stroke="none" stroke-width="0.4"/>
<rect x="99.65" y="77.5" width="1.5" height="1.3" fill="#1e1e1e" stroke="none" stroke-width="0.4"/>
<rect x="99.65" y="81.5" width="1.5" height="1.3" fill="#1e1e1e" stroke="none" stroke-width="0.4"/>
<rect x="99.65" y="87.5" width="1.5" height="1.3" fill="#1e1e1e" stroke="none" stroke-width="0.4"/>
<rect x="99.65" y="93.5" width="1.5" height="1.3" fill="#1e1e1e" stroke="none" stroke-width="0.4"/>
<rect x="106" y="95.05" width="1.3" height="1.5" fill="#262626" stroke="none" stroke-width="0.4"/>
<rect x="123.5" y="95.05" width="1.3" height="1.5" fill="#262626" stroke="none" stroke-width="0.4"/>
<rect x="125.0" y="95.05" width="1.3" height="1.5" fill="#262626" stroke="none" stroke-width="0.4"/>
<rect x="126.2" y="95.05" width="1.3" height="1.5" fill="#262626" stroke="none" stroke-width="0.4"/>
<rect x="129.2" y="95.05" width="1.3" height="1.5" fill="#262626" stroke="none" stroke-width="0.4"/>
<rect x="130.7" y="95.05" width="1.3" height="1.5" fill="#262626" stroke="none" stroke-width="0.4"/>
<rect x="131.9" y="95.05" width="1.3" height="1.5" fill="#262626" stroke="none" stroke-width="0.4"/>
<rect x="133.4" y="95.05" width="1.3" height="1.5" fill="#262626" stroke="none" stroke-width="0.4"/>
<rect x="134.9" y="95.05" width="1.3" height="1.5" fill="#262626" stroke="none" stroke-width="0.4"/>
<rect x="136.4" y="95.05" width="1.3" height="1.5" fill="#262626" stroke="none" stroke-width="0.4"/>
<rect x="139.4" y="95.05" width="1.3" height="1.5" fill="#262626" stroke="none" stroke-width="0.4"/>
<rect x="140.6" y="95.05" width="1.3" height="1.5" fill="#262626" stroke="none" stroke-width="0.4"/>
<rect x="141.8" y="95.05" width="1.3" height="1.5" fill="#262626" stroke="none" stroke-width="0.4"/>
<rect x="143.8" y="95.05" width="1.3" height="1.5" fill="#262626" stroke="none" stroke-width="0.4"/>
<rect x="146.8" y="95.05" width="1.3" height="1.5" fill="#262626" stroke="none" stroke-width="0.4"/>
<rect x="148.0" y="95.05" width="1.3" height="1.5" fill="#262626" stroke="none" stroke-width="0.4"/>
<rect x="149.2" y="95.05" width="1.3" height="1.5" fill="#262626" stroke="none" stroke-width="0.4"/>
<rect x="150.7" y="95.05" width="1.3" height="1.5" fill="#262626" stroke="none" stroke-width="0.4"/>
<rect x="152.2" y="95.05" width="1.3" height="1.5" fill="#262626" stroke="none" stroke-width="0.4"/>
<rect x="154.2" y="95.05" width="1.3" height="1.5" fill="#262626" stroke="none" stroke-width="0.4"/>
<rect x="155.4" y="95.05" width="1.3" height="1.5" fill="#262626" stroke="none" stroke-width="0.4"/>
<rect x="156.6" y="95.05" width="1.3" height="1.5" fill="#262626" stroke="none" stroke-width="0.4"/>
<rect x="159.6" y="95.05" width="1.3" height="1.5" fill="#262626" stroke="none" stroke-width="0.4"/>
<rect x="160.8" y="95.05" width="1.3" height="1.5" fill="#262626" stroke="none" stroke-width="0.4"/>
<rect x="162.0" y="95.05" width="1.3" height="1.5" fill="#262626" stroke="none" stroke-width="0.4"/>
<line x1="100.4" y1="21" x2="100.4" y2="95.8" stroke="#444" stroke-width="0.55"/>
<line x1="100.4" y1="95.8" x2="173" y2="95.8" stroke="#333" stroke-width="0.6"/>
<text x="104.5" y="26.0" font-size="4.3" fill="#333" stroke="#333" stroke-width="0.06" text-anchor="start" font-weight="normal" font-style="normal">r<tspan font-size="3" dy="0.8">s</tspan><tspan dy="-0.8"> = 0.606, </tspan><tspan font-style="italic">P</tspan> &lt; 0.0001</text>
<text x="90.9" y="59.2" font-size="4.05" fill="#2a2a2a" stroke="#2a2a2a" stroke-width="0.13" text-anchor="middle" font-weight="normal" font-style="normal" transform="rotate(-90 90.9 59.2)">Post-therapeutic BMPC(%)</text>
<text x="96.5" y="30.5" font-size="2.6" fill="#888" text-anchor="middle" font-weight="normal" font-style="normal" transform="rotate(-60 96.5 30.5)">1e+02</text>
<text x="96.2" y="58" font-size="2.6" fill="#888" text-anchor="middle" font-weight="normal" font-style="normal" transform="rotate(-60 96.2 58)">1e+00</text>
<text x="96" y="85" font-size="2.6" fill="#888" text-anchor="middle" font-weight="normal" font-style="normal" transform="rotate(-60 96 85)">0</text>
<text x="100.4" y="99.8" font-size="2.6" fill="#888" text-anchor="middle" font-weight="normal" font-style="normal">0</text>
<text x="113.7" y="99.8" font-size="2.6" fill="#888" text-anchor="middle" font-weight="normal" font-style="normal">1e-05</text>
<text x="137.7" y="99.8" font-size="2.6" fill="#888" text-anchor="middle" font-weight="normal" font-style="normal">1e-03</text>
<text x="166.2" y="99.8" font-size="2.6" fill="#888" text-anchor="middle" font-weight="normal" font-style="normal">1e-01</text>
<text x="137.75" y="106.39999999999999" font-size="3.95" fill="#222" stroke="#222" stroke-width="0.12" text-anchor="middle" font-weight="normal" font-style="normal">Pre-therapeutic CPC(%)</text>
<line x1="193.2" y1="32.45" x2="193.2" y2="105.7" stroke="#777" stroke-width="0.5"/>
<line x1="191.89999999999998" y1="105.7" x2="193.2" y2="105.7" stroke="#777" stroke-width="0.5"/>
<text x="191.1" y="107.45" font-size="4.8" fill="#3a3a3a" stroke="#3a3a3a" stroke-width="0.12" text-anchor="end" font-weight="normal" font-style="normal">0.0</text>
<line x1="191.89999999999998" y1="91.05" x2="193.2" y2="91.05" stroke="#777" stroke-width="0.5"/>
<text x="191.1" y="92.8" font-size="4.8" fill="#3a3a3a" stroke="#3a3a3a" stroke-width="0.12" text-anchor="end" font-weight="normal" font-style="normal">0.2</text>
<line x1="191.89999999999998" y1="76.4" x2="193.2" y2="76.4" stroke="#777" stroke-width="0.5"/>
<text x="191.1" y="78.15" font-size="4.8" fill="#3a3a3a" stroke="#3a3a3a" stroke-width="0.12" text-anchor="end" font-weight="normal" font-style="normal">0.4</text>
<line x1="191.89999999999998" y1="61.75000000000001" x2="193.2" y2="61.75000000000001" stroke="#777" stroke-width="0.5"/>
<text x="191.1" y="63.50000000000001" font-size="4.8" fill="#3a3a3a" stroke="#3a3a3a" stroke-width="0.12" text-anchor="end" font-weight="normal" font-style="normal">0.6</text>
<line x1="191.89999999999998" y1="47.1" x2="193.2" y2="47.1" stroke="#777" stroke-width="0.5"/>
<text x="191.1" y="48.85" font-size="4.8" fill="#3a3a3a" stroke="#3a3a3a" stroke-width="0.12" text-anchor="end" font-weight="normal" font-style="normal">0.8</text>
<line x1="191.89999999999998" y1="32.45" x2="193.2" y2="32.45" stroke="#777" stroke-width="0.5"/>
<text x="191.1" y="34.2" font-size="4.8" fill="#3a3a3a" stroke="#3a3a3a" stroke-width="0.12" text-anchor="end" font-weight="normal" font-style="normal">1.0</text>
<text x="182.2" y="68.6" font-size="6.1" fill="#1a1a1a" stroke="#1a1a1a" stroke-width="0.08" text-anchor="middle" font-weight="normal" font-style="normal" transform="rotate(-90 182.2 68.6)">Proportion</text>
<rect x="198.2" y="96.91" width="16.6" height="8.79" fill="#a8a8a8" stroke="#555" stroke-width="0.5"/>
<rect x="198.2" y="60.58" width="16.6" height="36.33" fill="#ececec" stroke="#555" stroke-width="0.5"/>
<rect x="198.2" y="32.45" width="16.6" height="28.13" fill="#5f8eb8" stroke="#3a5f82" stroke-width="0.5"/>
<rect x="219.8" y="88.12" width="16.6" height="17.58" fill="#a8a8a8" stroke="#555" stroke-width="0.5"/>
<rect x="219.8" y="54.06" width="16.6" height="34.06" fill="#ececec" stroke="#555" stroke-width="0.5"/>
<rect x="219.8" y="32.45" width="16.6" height="21.61" fill="#5f8eb8" stroke="#3a5f82" stroke-width="0.5"/>
<line x1="263.5" y1="32.45" x2="263.5" y2="104.8" stroke="#777" stroke-width="0.5"/>
<line x1="262.2" y1="104.8" x2="263.5" y2="104.8" stroke="#777" stroke-width="0.5"/>
<text x="261.4" y="106.55" font-size="4.8" fill="#3a3a3a" stroke="#3a3a3a" stroke-width="0.12" text-anchor="end" font-weight="normal" font-style="normal">0.0</text>
<line x1="262.2" y1="90.33" x2="263.5" y2="90.33" stroke="#777" stroke-width="0.5"/>
<text x="261.4" y="92.08" font-size="4.8" fill="#3a3a3a" stroke="#3a3a3a" stroke-width="0.12" text-anchor="end" font-weight="normal" font-style="normal">0.2</text>
<line x1="262.2" y1="75.86" x2="263.5" y2="75.86" stroke="#777" stroke-width="0.5"/>
<text x="261.4" y="77.61" font-size="4.8" fill="#3a3a3a" stroke="#3a3a3a" stroke-width="0.12" text-anchor="end" font-weight="normal" font-style="normal">0.4</text>
<line x1="262.2" y1="61.39" x2="263.5" y2="61.39" stroke="#777" stroke-width="0.5"/>
<text x="261.4" y="63.14" font-size="4.8" fill="#3a3a3a" stroke="#3a3a3a" stroke-width="0.12" text-anchor="end" font-weight="normal" font-style="normal">0.6</text>
<line x1="262.2" y1="46.92" x2="263.5" y2="46.92" stroke="#777" stroke-width="0.5"/>
<text x="261.4" y="48.67" font-size="4.8" fill="#3a3a3a" stroke="#3a3a3a" stroke-width="0.12" text-anchor="end" font-weight="normal" font-style="normal">0.8</text>
<line x1="262.2" y1="32.45" x2="263.5" y2="32.45" stroke="#777" stroke-width="0.5"/>
<text x="261.4" y="34.2" font-size="4.8" fill="#3a3a3a" stroke="#3a3a3a" stroke-width="0.12" text-anchor="end" font-weight="normal" font-style="normal">1.0</text>
<text x="251.8" y="68.6" font-size="6.1" fill="#1a1a1a" stroke="#1a1a1a" stroke-width="0.08" text-anchor="middle" font-weight="normal" font-style="normal" transform="rotate(-90 251.8 68.6)">Proportion</text>
<rect x="268.7" y="63.78" width="16.8" height="41.02" fill="#ececec" stroke="#555" stroke-width="0.5"/>
<rect x="268.7" y="44.75" width="16.8" height="19.03" fill="#a8a8a8" stroke="#555" stroke-width="0.5"/>
<rect x="268.7" y="32.45" width="16.8" height="12.3" fill="#f37b81" stroke="#b04a50" stroke-width="0.5"/>
<rect x="290.0" y="77.6" width="16.8" height="27.2" fill="#ececec" stroke="#555" stroke-width="0.5"/>
<rect x="290.0" y="64.36" width="16.8" height="13.24" fill="#a8a8a8" stroke="#555" stroke-width="0.5"/>
<rect x="290.0" y="32.45" width="16.8" height="31.91" fill="#f37b81" stroke="#b04a50" stroke-width="0.5"/>
<rect x="200.1" y="4.2" width="7.0" height="3.3" fill="#5f8eb8" stroke="#3a5f82" stroke-width="0.35"/>
<text x="210.8" y="7.7" font-size="4.9" fill="#111" stroke="#111" stroke-width="0.12" text-anchor="start" font-weight="normal" font-style="normal">HRCA = 0</text>
<rect x="200.1" y="10.2" width="7.0" height="3.3" fill="#ececec" stroke="#555" stroke-width="0.35"/>
<text x="210.8" y="13.7" font-size="4.9" fill="#111" stroke="#111" stroke-width="0.12" text-anchor="start" font-weight="normal" font-style="normal">HRCA = 1</text>
<rect x="200.1" y="16.2" width="7.0" height="3.3" fill="#a8a8a8" stroke="#555" stroke-width="0.35"/>
<text x="210.8" y="19.7" font-size="4.9" fill="#111" stroke="#111" stroke-width="0.12" text-anchor="start" font-weight="normal" font-style="normal">HRCA ≥ 2</text>
<rect x="274.7" y="3.1" width="7.0" height="3.3" fill="#f37b81" stroke="#b04a50" stroke-width="0.35"/>
<text x="285" y="6.6" font-size="4.9" fill="#111" stroke="#111" stroke-width="0.12" text-anchor="start" font-weight="normal" font-style="normal">≤ PR</text>
<rect x="274.7" y="9.1" width="7.0" height="3.3" fill="#a8a8a8" stroke="#555" stroke-width="0.35"/>
<text x="285" y="12.6" font-size="4.9" fill="#111" stroke="#111" stroke-width="0.12" text-anchor="start" font-weight="normal" font-style="normal">VGPR</text>
<rect x="274.7" y="15.1" width="7.0" height="3.3" fill="#ececec" stroke="#555" stroke-width="0.35"/>
<text x="285" y="18.6" font-size="4.9" fill="#111" stroke="#111" stroke-width="0.12" text-anchor="start" font-weight="normal" font-style="normal">≥ CR</text>
<text x="217.5" y="26.0" font-size="5.0" fill="#111" stroke="#111" stroke-width="0.12" text-anchor="middle" font-weight="normal" font-style="normal"><tspan font-style="italic">P</tspan>=0.0256</text>
<path d="M206,29.4 V28.4 H228.2 V29.4" fill="none" stroke="#444" stroke-width="0.45"/>
<text x="288.3" y="27.1" font-size="4.8" fill="#111" stroke="#111" stroke-width="0.12" text-anchor="middle" font-weight="normal" font-style="normal"><tspan font-style="italic">P</tspan>&lt;0.0001</text>
<path d="M277.5,29.6 V28.6 H299 V29.6" fill="none" stroke="#444" stroke-width="0.45"/>
<text x="207.4" y="111.6" font-size="5.3" fill="#1a1a1a" stroke="#1a1a1a" stroke-width="0.18" text-anchor="end" font-weight="normal" font-style="normal" transform="rotate(-32 207.4 111.6)">CPC-low</text>
<text x="230.0" y="111.5" font-size="5.3" fill="#1a1a1a" stroke="#1a1a1a" stroke-width="0.18" text-anchor="end" font-weight="normal" font-style="normal" transform="rotate(-32 230.0 111.5)">CPC-high</text>
<text x="278.1" y="111.3" font-size="5.3" fill="#1a1a1a" stroke="#1a1a1a" stroke-width="0.18" text-anchor="end" font-weight="normal" font-style="normal" transform="rotate(-32 278.1 111.3)">CPC-low</text>
<text x="300.0" y="111.3" font-size="5.3" fill="#1a1a1a" stroke="#1a1a1a" stroke-width="0.18" text-anchor="end" font-weight="normal" font-style="normal" transform="rotate(-32 300.0 111.3)">CPC-high</text>
<line x1="331.6" y1="26" x2="331.6" y2="105.0" stroke="#555" stroke-width="0.5"/>
<line x1="331.6" y1="105.0" x2="400" y2="105.0" stroke="#555" stroke-width="0.5"/>
<line x1="330" y1="104.6" x2="331.4" y2="104.6" stroke="#555" stroke-width="0.45"/>
<text x="329.2" y="105.8" font-size="4.6" fill="#444" stroke="#444" stroke-width="0.06" text-anchor="middle" font-weight="normal" font-style="normal" transform="rotate(-70 329.2 105.8)">0.0</text>
<line x1="330" y1="88.02499999999999" x2="331.4" y2="88.02499999999999" stroke="#555" stroke-width="0.45"/>
<text x="329.2" y="89.225" font-size="4.6" fill="#444" stroke="#444" stroke-width="0.06" text-anchor="middle" font-weight="normal" font-style="normal" transform="rotate(-70 329.2 89.225)">0.3</text>
<line x1="330" y1="71.44999999999999" x2="331.4" y2="71.44999999999999" stroke="#555" stroke-width="0.45"/>
<text x="329.2" y="72.64999999999999" font-size="4.6" fill="#444" stroke="#444" stroke-width="0.06" text-anchor="middle" font-weight="normal" font-style="normal" transform="rotate(-70 329.2 72.64999999999999)">0.6</text>
<line x1="330" y1="54.87499999999999" x2="331.4" y2="54.87499999999999" stroke="#555" stroke-width="0.45"/>
<text x="329.2" y="56.074999999999996" font-size="4.6" fill="#444" stroke="#444" stroke-width="0.06" text-anchor="middle" font-weight="normal" font-style="normal" transform="rotate(-70 329.2 56.074999999999996)">0.9</text>
<line x1="330" y1="38.3" x2="331.4" y2="38.3" stroke="#555" stroke-width="0.45"/>
<text x="329.2" y="39.5" font-size="4.6" fill="#444" stroke="#444" stroke-width="0.06" text-anchor="middle" font-weight="normal" font-style="normal" transform="rotate(-70 329.2 39.5)">1.2</text>
<text x="320.6" y="66.7" font-size="5.6" fill="#111" stroke="#111" stroke-width="0.08" text-anchor="middle" font-weight="normal" font-style="normal" transform="rotate(-90 320.6 66.7)">CPC%</text>
<line x1="344.4" y1="34.48774999999999" x2="344.4" y2="70.06875" stroke="#666" stroke-width="0.5"/>
<line x1="342.9" y1="34.48774999999999" x2="345.9" y2="34.48774999999999" stroke="#666" stroke-width="0.5"/>
<rect x="336.2" y="70.06875" width="16.4" height="31.768749999999997" fill="#f5a2a7" stroke="#9a6a6e" stroke-width="0.5"/>
<line x1="336.2" y1="95.2075" x2="352.59999999999997" y2="95.2075" stroke="#5a1f26" stroke-width="0.9"/>
<line x1="344.4" y1="70.17925" x2="344.4" y2="101.83749999999999" stroke="#d88a90" stroke-width="0.4"/>
<line x1="365.6" y1="90.235" x2="365.6" y2="97.14125" stroke="#666" stroke-width="0.5"/>
<line x1="364.1" y1="90.235" x2="367.1" y2="90.235" stroke="#666" stroke-width="0.5"/>
<rect x="357.3" y="97.14125" width="16.6" height="4.58574999999999" fill="#b8dbb1" stroke="#4f7f4c" stroke-width="0.5"/>
<line x1="357.3" y1="100.73249999999999" x2="373.90000000000003" y2="100.73249999999999" stroke="#3d5e3b" stroke-width="0.7"/>
<line x1="387.0" y1="89.57199999999999" x2="387.0" y2="96.7545" stroke="#666" stroke-width="0.5"/>
<line x1="385.5" y1="89.57199999999999" x2="388.5" y2="89.57199999999999" stroke="#666" stroke-width="0.5"/>
<rect x="378.8" y="96.7545" width="16.4" height="4.972499999999997" fill="#8eb2d3" stroke="#3f6385" stroke-width="0.5"/>
<line x1="378.8" y1="100.73249999999999" x2="395.2" y2="100.73249999999999" stroke="#2d4a66" stroke-width="0.7"/>
<line x1="344.5" y1="105.0" x2="344.5" y2="106.3" stroke="#555" stroke-width="0.45"/>
<text x="344.5" y="110.8" font-size="4.9" fill="#444" stroke="#444" stroke-width="0.03" text-anchor="middle" font-weight="normal" font-style="normal">≤PR</text>
<line x1="365.9" y1="105.0" x2="365.9" y2="106.3" stroke="#555" stroke-width="0.45"/>
<text x="365.9" y="110.8" font-size="4.9" fill="#444" stroke="#444" stroke-width="0.03" text-anchor="middle" font-weight="normal" font-style="normal">VGPR</text>
<line x1="386.6" y1="105.0" x2="386.6" y2="106.3" stroke="#555" stroke-width="0.45"/>
<text x="386.6" y="110.8" font-size="4.9" fill="#444" stroke="#444" stroke-width="0.03" text-anchor="middle" font-weight="normal" font-style="normal">≥CR</text>
<text x="364.2" y="117.5" font-size="6.0" fill="#111" stroke="#111" stroke-width="0.1" text-anchor="middle" font-weight="normal" font-style="normal">Response</text>
<text x="367.6" y="22.6" font-size="4.6" fill="#222" stroke="#222" stroke-width="0.12" text-anchor="middle" font-weight="normal" font-style="normal"><tspan font-style="italic">P</tspan>=0.0001</text>
<path d="M344.1,24.5 V23.3 H388.8 V24.5" fill="none" stroke="#555" stroke-width="0.5"/>
<text x="354.8" y="29.8" font-size="4.6" fill="#222" stroke="#222" stroke-width="0.12" text-anchor="middle" font-weight="normal" font-style="normal"><tspan font-style="italic">P</tspan>=0.0007</text>
<text x="366.2" y="29.8" font-size="4.6" fill="#222" stroke="#222" stroke-width="0.12" text-anchor="middle" font-weight="normal" font-style="normal">,</text>
<text x="377.9" y="29.8" font-size="4.6" fill="#222" stroke="#222" stroke-width="0.12" text-anchor="middle" font-weight="normal" font-style="normal"><tspan font-style="italic">P</tspan>=0.8445</text>
<path d="M344.1,32 V30.8 H365.4 V32" fill="none" stroke="#555" stroke-width="0.5"/>
<path d="M367.6,32 V30.8 H388.8 V32" fill="none" stroke="#555" stroke-width="0.5"/>
<rect x="23.3" y="137.2" width="164.39999999999998" height="79.30000000000001" fill="#ffffff" stroke="#c4c4c4" stroke-width="0.5"/>
<line x1="30.9" y1="137.2" x2="30.9" y2="216.5" stroke="#ebebeb" stroke-width="0.45"/>
<line x1="42.074999999999996" y1="137.2" x2="42.074999999999996" y2="216.5" stroke="#ebebeb" stroke-width="0.25"/>
<line x1="53.25" y1="137.2" x2="53.25" y2="216.5" stroke="#ebebeb" stroke-width="0.45"/>
<line x1="64.425" y1="137.2" x2="64.425" y2="216.5" stroke="#ebebeb" stroke-width="0.25"/>
<line x1="75.6" y1="137.2" x2="75.6" y2="216.5" stroke="#ebebeb" stroke-width="0.45"/>
<line x1="86.775" y1="137.2" x2="86.775" y2="216.5" stroke="#ebebeb" stroke-width="0.25"/>
<line x1="97.94999999999999" y1="137.2" x2="97.94999999999999" y2="216.5" stroke="#ebebeb" stroke-width="0.45"/>
<line x1="109.125" y1="137.2" x2="109.125" y2="216.5" stroke="#ebebeb" stroke-width="0.25"/>
<line x1="120.29999999999998" y1="137.2" x2="120.29999999999998" y2="216.5" stroke="#ebebeb" stroke-width="0.45"/>
<line x1="131.475" y1="137.2" x2="131.475" y2="216.5" stroke="#ebebeb" stroke-width="0.25"/>
<line x1="142.65" y1="137.2" x2="142.65" y2="216.5" stroke="#ebebeb" stroke-width="0.45"/>
<line x1="153.82500000000002" y1="137.2" x2="153.82500000000002" y2="216.5" stroke="#ebebeb" stroke-width="0.25"/>
<line x1="165.0" y1="137.2" x2="165.0" y2="216.5" stroke="#ebebeb" stroke-width="0.45"/>
<line x1="23.3" y1="212.6" x2="187.7" y2="212.6" stroke="#ebebeb" stroke-width="0.45"/>
<line x1="23.3" y1="203.65" x2="187.7" y2="203.65" stroke="#ebebeb" stroke-width="0.25"/>
<line x1="23.3" y1="194.7" x2="187.7" y2="194.7" stroke="#ebebeb" stroke-width="0.45"/>
<line x1="23.3" y1="185.75" x2="187.7" y2="185.75" stroke="#ebebeb" stroke-width="0.25"/>
<line x1="23.3" y1="176.8" x2="187.7" y2="176.8" stroke="#ebebeb" stroke-width="0.45"/>
<line x1="23.3" y1="167.85" x2="187.7" y2="167.85" stroke="#ebebeb" stroke-width="0.25"/>
<line x1="23.3" y1="158.9" x2="187.7" y2="158.9" stroke="#ebebeb" stroke-width="0.45"/>
<line x1="23.3" y1="149.95" x2="187.7" y2="149.95" stroke="#ebebeb" stroke-width="0.25"/>
<line x1="23.3" y1="141.0" x2="187.7" y2="141.0" stroke="#ebebeb" stroke-width="0.45"/>
<path d="M31.8,140.3 L33.1,141.08 L34.4,141.85 L35.7,142.63 L37.0,144.04 L38.3,146.07 L39.6,148.09 L40.9,150.11 L42.2,150.93 L43.5,151.75 L44.8,152.57 L46.1,153.12 L47.4,153.61 L48.7,154.1 L50.0,154.59 L51.3,155.08 L52.6,155.69 L53.9,156.71 L55.2,157.73 L56.5,158.75 L57.8,159.77 L59.1,160.79 L60.4,161.98 L61.7,164.13 L63.0,166.27 L64.3,168.41 L65.6,170.62 L66.9,172.85 L68.2,174.69 L69.5,175.92 L70.8,177.16 L72.1,178.44 L73.4,179.72 L74.7,180.99 L76.0,182.27 L77.3,183.55 L78.6,184.73 L79.9,185.91 L81.2,186.66 L82.5,187.38 L83.8,188.1 L85.1,188.81 L86.4,189.63 L87.7,190.53 L89.0,191.43 L90.3,192.32 L91.6,193.01 L92.9,193.7 L94.2,194.4 L95.5,195.09 L95.9,195.31 L95.9,192 L124.3,192 L124.3,206.8 L95.9,206.8 95.9,209.29 L95.5,209.03 L94.2,208.17 L92.9,207.32 L91.6,206.46 L90.3,205.6 L89.0,204.56 L87.7,203.49 L86.4,202.43 L85.1,201.45 L83.8,200.57 L82.5,199.69 L81.2,198.81 L79.9,197.91 L78.6,196.68 L77.3,195.45 L76.0,194.13 L74.7,192.81 L73.4,191.48 L72.1,190.16 L70.8,188.84 L69.5,187.55 L68.2,186.27 L66.9,184.38 L65.6,182.1 L64.3,179.85 L63.0,177.66 L61.7,175.47 L60.4,173.28 L59.1,172.04 L57.8,170.98 L56.5,169.91 L55.2,168.84 L53.9,167.78 L52.6,166.71 L51.3,165.78 L50.0,164.73 L48.7,163.68 L47.4,162.64 L46.1,161.59 L44.8,160.48 L43.5,159.09 L42.2,157.69 L40.9,156.29 L39.6,153.69 L38.3,151.09 L37.0,148.49 L35.7,146.4 L34.4,144.63 L33.1,142.87 L31.8,141.1 Z" fill="#f07f8c" fill-opacity="0.38"/>
<path d="M31.8,140.7 H33.1 V141.97 H34.4 V143.24 H35.7 V144.52 H37.0 V146.27 H38.3 V148.58 H39.6 V150.89 H40.9 V153.2 H42.2 V154.31 H43.5 V155.42 H44.8 V156.53 H46.1 V157.35 H47.4 V158.12 H48.7 V158.89 H50.0 V159.66 H51.3 V160.43 H52.6 V161.2 H53.9 V162.24 H55.2 V163.29 H56.5 V164.33 H57.8 V165.37 H59.1 V166.42 H60.4 V167.63 H61.7 V169.8 H63.0 V171.97 H64.3 V174.13 H65.6 V176.36 H66.9 V178.61 H68.2 V180.48 H69.5 V181.74 H70.8 V183.0 H72.1 V184.3 H73.4 V185.6 H74.7 V186.9 H76.0 V188.2 H77.3 V189.5 H78.6 V190.7 H79.9 V191.91 H81.2 V192.74 H82.5 V193.54 H83.8 V194.33 H85.1 V195.13 H86.4 V196.03 H87.7 V197.01 H89.0 V197.99 H90.3 V198.96 H91.6 V199.74 H92.9 V200.51 H94.2 V201.29 H95.5 V202.06 H95.9 V202.3 H124.3" fill="none" stroke="#e05a68" stroke-width="1.0"/>
<line x1="99.9" y1="201.4" x2="99.9" y2="203.20000000000002" stroke="#e05a68" stroke-width="0.45"/>
<line x1="104.9" y1="201.4" x2="104.9" y2="203.20000000000002" stroke="#e05a68" stroke-width="0.45"/>
<line x1="109.9" y1="201.4" x2="109.9" y2="203.20000000000002" stroke="#e05a68" stroke-width="0.45"/>
<line x1="114.9" y1="201.4" x2="114.9" y2="203.20000000000002" stroke="#e05a68" stroke-width="0.45"/>
<line x1="119.9" y1="201.4" x2="119.9" y2="203.20000000000002" stroke="#e05a68" stroke-width="0.45"/>
<path d="M31.8,140.3 L33.1,140.41 L34.4,140.51 L35.7,140.62 L37.0,140.73 L38.3,140.83 L39.6,141.22 L40.9,141.84 L42.2,142.53 L43.5,143.22 L44.8,143.91 L46.1,144.6 L47.4,145.29 L48.7,145.73 L50.0,146.11 L51.3,146.48 L52.6,146.86 L53.9,147.23 L55.2,147.61 L56.5,147.99 L57.8,148.66 L59.1,149.43 L60.4,150.21 L61.7,150.99 L63.0,151.77 L64.3,152.43 L65.6,152.97 L66.9,153.52 L68.2,154.07 L69.5,154.61 L70.8,155.21 L72.1,155.97 L73.4,156.74 L74.7,157.5 L76.0,158.31 L77.3,159.13 L78.6,160.3 L79.9,161.46 L81.2,162.74 L82.5,164.03 L83.8,165.32 L85.1,166.31 L86.4,166.95 L87.7,167.6 L89.0,168.24 L90.3,168.7 L91.6,169.17 L92.9,169.63 L94.2,170.09 L95.5,170.55 L96.8,171.01 L98.1,171.48 L99.4,171.88 L100.7,172.28 L102.0,172.69 L103.3,173.09 L104.6,173.49 L105.9,174.3 L107.2,175.29 L108.5,176.29 L109.8,177.34 L111.1,178.58 L112.4,179.83 L113,180.4 L113,177.3 L161.6,177.3 L161.6,192.2 L113,192.2 113,192.4 L112.4,191.81 L111.1,190.53 L109.8,189.25 L108.5,188.16 L107.2,187.13 L105.9,186.1 L104.6,185.25 L103.3,184.81 L102.0,184.37 L100.7,183.93 L99.4,183.49 L98.1,183.05 L96.8,182.55 L95.5,182.05 L94.2,181.55 L92.9,181.05 L91.6,180.56 L90.3,180.06 L89.0,179.56 L87.7,178.87 L86.4,178.19 L85.1,177.51 L83.8,176.45 L82.5,175.08 L81.2,173.71 L79.9,172.35 L78.6,171.11 L77.3,169.87 L76.0,168.97 L74.7,168.06 L73.4,167.1 L72.1,166.15 L70.8,165.19 L69.5,164.4 L68.2,163.67 L66.9,162.93 L65.6,162.2 L64.3,161.46 L63.0,160.61 L61.7,159.64 L60.4,158.66 L59.1,157.68 L57.8,156.69 L56.5,155.79 L55.2,155.19 L53.9,154.6 L52.6,154.0 L51.3,153.41 L50.0,152.81 L48.7,152.21 L47.4,151.54 L46.1,150.63 L44.8,149.72 L43.5,148.81 L42.2,147.9 L40.9,146.99 L39.6,146.01 L38.3,144.96 L37.0,144.19 L35.7,143.42 L34.4,142.65 L33.1,141.87 L31.8,141.1 Z" fill="#6f9fc6" fill-opacity="0.4"/>
<path d="M31.8,140.7 H33.1 V141.14 H34.4 V141.58 H35.7 V142.02 H37.0 V142.46 H38.3 V142.9 H39.6 V143.62 H40.9 V144.42 H42.2 V145.22 H43.5 V146.02 H44.8 V146.82 H46.1 V147.62 H47.4 V148.42 H48.7 V148.97 H50.0 V149.46 H51.3 V149.95 H52.6 V150.43 H53.9 V150.92 H55.2 V151.4 H56.5 V151.89 H57.8 V152.68 H59.1 V153.56 H60.4 V154.44 H61.7 V155.31 H63.0 V156.19 H64.3 V156.94 H65.6 V157.59 H66.9 V158.23 H68.2 V158.87 H69.5 V159.51 H70.8 V160.2 H72.1 V161.06 H73.4 V161.92 H74.7 V162.78 H76.0 V163.64 H77.3 V164.5 H78.6 V165.7 H79.9 V166.91 H81.2 V168.23 H82.5 V169.56 H83.8 V170.88 H85.1 V171.91 H86.4 V172.57 H87.7 V173.24 H89.0 V173.9 H90.3 V174.38 H91.6 V174.86 H92.9 V175.34 H94.2 V175.82 H95.5 V176.3 H96.8 V176.78 H98.1 V177.26 H99.4 V177.69 H100.7 V178.11 H102.0 V178.53 H103.3 V178.95 H104.6 V179.37 H105.9 V180.2 H107.2 V181.21 H108.5 V182.22 H109.8 V183.29 H111.1 V184.55 H112.4 V185.82 H113 V186.4 H161.6" fill="none" stroke="#3b6b91" stroke-width="1.0"/>
<line x1="116.0" y1="185.5" x2="116.0" y2="187.3" stroke="#3b6b91" stroke-width="0.45"/>
<line x1="120.2" y1="185.5" x2="120.2" y2="187.3" stroke="#3b6b91" stroke-width="0.45"/>
<line x1="124.4" y1="185.5" x2="124.4" y2="187.3" stroke="#3b6b91" stroke-width="0.45"/>
<line x1="128.6" y1="185.5" x2="128.6" y2="187.3" stroke="#3b6b91" stroke-width="0.45"/>
<line x1="132.8" y1="185.5" x2="132.8" y2="187.3" stroke="#3b6b91" stroke-width="0.45"/>
<line x1="137.0" y1="185.5" x2="137.0" y2="187.3" stroke="#3b6b91" stroke-width="0.45"/>
<line x1="141.2" y1="185.5" x2="141.2" y2="187.3" stroke="#3b6b91" stroke-width="0.45"/>
<line x1="145.4" y1="185.5" x2="145.4" y2="187.3" stroke="#3b6b91" stroke-width="0.45"/>
<line x1="149.6" y1="185.5" x2="149.6" y2="187.3" stroke="#3b6b91" stroke-width="0.45"/>
<line x1="153.8" y1="185.5" x2="153.8" y2="187.3" stroke="#3b6b91" stroke-width="0.45"/>
<line x1="158.0" y1="185.5" x2="158.0" y2="187.3" stroke="#3b6b91" stroke-width="0.45"/>
<line x1="22.0" y1="141.0" x2="23.3" y2="141.0" stroke="#555" stroke-width="0.45"/>
<text x="21.5" y="143.1" font-size="5.9" fill="#555" stroke="#555" stroke-width="0.05" text-anchor="end" font-weight="normal" font-style="normal">1.00</text>
<line x1="22.0" y1="158.9" x2="23.3" y2="158.9" stroke="#555" stroke-width="0.45"/>
<text x="21.5" y="161.0" font-size="5.9" fill="#555" stroke="#555" stroke-width="0.05" text-anchor="end" font-weight="normal" font-style="normal">0.75</text>
<line x1="22.0" y1="176.8" x2="23.3" y2="176.8" stroke="#555" stroke-width="0.45"/>
<text x="21.5" y="178.9" font-size="5.9" fill="#555" stroke="#555" stroke-width="0.05" text-anchor="end" font-weight="normal" font-style="normal">0.50</text>
<line x1="22.0" y1="194.7" x2="23.3" y2="194.7" stroke="#555" stroke-width="0.45"/>
<text x="21.5" y="196.79999999999998" font-size="5.9" fill="#555" stroke="#555" stroke-width="0.05" text-anchor="end" font-weight="normal" font-style="normal">0.25</text>
<line x1="22.0" y1="212.6" x2="23.3" y2="212.6" stroke="#555" stroke-width="0.45"/>
<text x="21.5" y="214.7" font-size="5.9" fill="#555" stroke="#555" stroke-width="0.05" text-anchor="end" font-weight="normal" font-style="normal">0.00</text>
<line x1="30.9" y1="216.5" x2="30.9" y2="217.8" stroke="#555" stroke-width="0.45"/>
<text x="30.9" y="222.6" font-size="5.9" fill="#555" stroke="#555" stroke-width="0.05" text-anchor="middle" font-weight="normal" font-style="normal">0</text>
<line x1="53.25" y1="216.5" x2="53.25" y2="217.8" stroke="#555" stroke-width="0.45"/>
<text x="53.25" y="222.6" font-size="5.9" fill="#555" stroke="#555" stroke-width="0.05" text-anchor="middle" font-weight="normal" font-style="normal">12</text>
<line x1="75.6" y1="216.5" x2="75.6" y2="217.8" stroke="#555" stroke-width="0.45"/>
<text x="75.6" y="222.6" font-size="5.9" fill="#555" stroke="#555" stroke-width="0.05" text-anchor="middle" font-weight="normal" font-style="normal">24</text>
<line x1="97.94999999999999" y1="216.5" x2="97.94999999999999" y2="217.8" stroke="#555" stroke-width="0.45"/>
<text x="97.94999999999999" y="222.6" font-size="5.9" fill="#555" stroke="#555" stroke-width="0.05" text-anchor="middle" font-weight="normal" font-style="normal">36</text>
<line x1="120.29999999999998" y1="216.5" x2="120.29999999999998" y2="217.8" stroke="#555" stroke-width="0.45"/>
<text x="120.29999999999998" y="222.6" font-size="5.9" fill="#555" stroke="#555" stroke-width="0.05" text-anchor="middle" font-weight="normal" font-style="normal">48</text>
<line x1="142.65" y1="216.5" x2="142.65" y2="217.8" stroke="#555" stroke-width="0.45"/>
<text x="142.65" y="222.6" font-size="5.9" fill="#555" stroke="#555" stroke-width="0.05" text-anchor="middle" font-weight="normal" font-style="normal">60</text>
<line x1="165.0" y1="216.5" x2="165.0" y2="217.8" stroke="#555" stroke-width="0.45"/>
<text x="165.0" y="222.6" font-size="5.9" fill="#555" stroke="#555" stroke-width="0.05" text-anchor="middle" font-weight="normal" font-style="normal">72</text>
<text x="105.4" y="230.1" font-size="7.0" fill="#1a1a1a" stroke="#1a1a1a" stroke-width="0.04" text-anchor="middle" font-weight="normal" font-style="normal">Time (months)</text>
<text x="6.0" y="176.6" font-size="6.9" fill="#333" stroke="#333" stroke-width="0.03" text-anchor="middle" font-weight="normal" font-style="normal" transform="rotate(-90 6.0 176.6)">Probability of PFS</text>
<text x="142.7" y="149.8" font-size="6.1" fill="#1a1a1a" stroke="#1a1a1a" stroke-width="0.04" text-anchor="start" font-weight="normal" font-style="normal"><tspan font-style="italic">P</tspan> &lt; 0.0001</text>
<rect x="29.8" y="200.2" width="4.6" height="3.6" fill="#c3d8e7" stroke="none" stroke-width="0.4"/>
<line x1="29.8" y1="202.0" x2="34.4" y2="202.0" stroke="#3b6b91" stroke-width="0.8"/>
<text x="36.8" y="204.0" font-size="6.3" fill="#222" stroke="#222" stroke-width="0.03" text-anchor="start" font-weight="normal" font-style="normal">CPC−low</text>
<rect x="29.8" y="208.5" width="4.6" height="3.6" fill="#f8cdd3" stroke="none" stroke-width="0.4"/>
<line x1="29.8" y1="210.3" x2="34.4" y2="210.3" stroke="#e05a68" stroke-width="0.8"/>
<text x="36.8" y="212.7" font-size="6.3" fill="#222" stroke="#222" stroke-width="0.03" text-anchor="start" font-weight="normal" font-style="normal">CPC−high</text>
<rect x="23.3" y="235.8" width="164.39999999999998" height="17.5" fill="#ffffff" stroke="#c4c4c4" stroke-width="0.5"/>
<line x1="30.9" y1="235.8" x2="30.9" y2="253.3" stroke="#f0f0f0" stroke-width="0.3"/>
<line x1="42.074999999999996" y1="235.8" x2="42.074999999999996" y2="253.3" stroke="#f0f0f0" stroke-width="0.3"/>
<line x1="53.25" y1="235.8" x2="53.25" y2="253.3" stroke="#f0f0f0" stroke-width="0.3"/>
<line x1="64.425" y1="235.8" x2="64.425" y2="253.3" stroke="#f0f0f0" stroke-width="0.3"/>
<line x1="75.6" y1="235.8" x2="75.6" y2="253.3" stroke="#f0f0f0" stroke-width="0.3"/>
<line x1="86.775" y1="235.8" x2="86.775" y2="253.3" stroke="#f0f0f0" stroke-width="0.3"/>
<line x1="97.94999999999999" y1="235.8" x2="97.94999999999999" y2="253.3" stroke="#f0f0f0" stroke-width="0.3"/>
<line x1="109.125" y1="235.8" x2="109.125" y2="253.3" stroke="#f0f0f0" stroke-width="0.3"/>
<line x1="120.29999999999998" y1="235.8" x2="120.29999999999998" y2="253.3" stroke="#f0f0f0" stroke-width="0.3"/>
<line x1="131.475" y1="235.8" x2="131.475" y2="253.3" stroke="#f0f0f0" stroke-width="0.3"/>
<line x1="142.65" y1="235.8" x2="142.65" y2="253.3" stroke="#f0f0f0" stroke-width="0.3"/>
<line x1="153.82500000000002" y1="235.8" x2="153.82500000000002" y2="253.3" stroke="#f0f0f0" stroke-width="0.3"/>
<line x1="165.0" y1="235.8" x2="165.0" y2="253.3" stroke="#f0f0f0" stroke-width="0.3"/>
<text x="24.2" y="234.7" font-size="4.9" fill="#222" stroke="#222" stroke-width="0.06" text-anchor="start" font-weight="normal" font-style="normal">Number at risk</text>
<text x="22.6" y="242.6" font-size="4.9" fill="#4a88ba" stroke="#4a88ba" stroke-width="0.05" text-anchor="end" font-weight="normal" font-style="normal">CPC−low</text>
<text x="22.6" y="250.1" font-size="4.9" fill="#ea6676" stroke="#ea6676" stroke-width="0.05" text-anchor="end" font-weight="normal" font-style="normal">CPC−high</text>
<text x="30.9" y="242.6" font-size="4.9" fill="#4a88ba" stroke="#4a88ba" stroke-width="0.05" text-anchor="middle" font-weight="normal" font-style="normal">208</text>
<text x="30.9" y="250.1" font-size="4.9" fill="#ea6676" stroke="#ea6676" stroke-width="0.05" text-anchor="middle" font-weight="normal" font-style="normal">89</text>
<line x1="30.9" y1="253.3" x2="30.9" y2="254.3" stroke="#555" stroke-width="0.35"/>
<text x="30.9" y="258.4" font-size="4.1" fill="#555" stroke="#555" stroke-width="0.03" text-anchor="middle" font-weight="normal" font-style="normal">0</text>
<text x="53.25" y="242.6" font-size="4.9" fill="#4a88ba" stroke="#4a88ba" stroke-width="0.05" text-anchor="middle" font-weight="normal" font-style="normal">146</text>
<text x="53.25" y="250.1" font-size="4.9" fill="#ea6676" stroke="#ea6676" stroke-width="0.05" text-anchor="middle" font-weight="normal" font-style="normal">50</text>
<line x1="53.25" y1="253.3" x2="53.25" y2="254.3" stroke="#555" stroke-width="0.35"/>
<text x="53.25" y="258.4" font-size="4.1" fill="#555" stroke="#555" stroke-width="0.03" text-anchor="middle" font-weight="normal" font-style="normal">12</text>
<text x="75.6" y="242.6" font-size="4.9" fill="#4a88ba" stroke="#4a88ba" stroke-width="0.05" text-anchor="middle" font-weight="normal" font-style="normal">77</text>
<text x="75.6" y="250.1" font-size="4.9" fill="#ea6676" stroke="#ea6676" stroke-width="0.05" text-anchor="middle" font-weight="normal" font-style="normal">21</text>
<line x1="75.6" y1="253.3" x2="75.6" y2="254.3" stroke="#555" stroke-width="0.35"/>
<text x="75.6" y="258.4" font-size="4.1" fill="#555" stroke="#555" stroke-width="0.03" text-anchor="middle" font-weight="normal" font-style="normal">24</text>
<text x="97.94999999999999" y="242.6" font-size="4.9" fill="#4a88ba" stroke="#4a88ba" stroke-width="0.05" text-anchor="middle" font-weight="normal" font-style="normal">32</text>
<text x="97.94999999999999" y="250.1" font-size="4.9" fill="#ea6676" stroke="#ea6676" stroke-width="0.05" text-anchor="middle" font-weight="normal" font-style="normal">4</text>
<line x1="97.94999999999999" y1="253.3" x2="97.94999999999999" y2="254.3" stroke="#555" stroke-width="0.35"/>
<text x="97.94999999999999" y="258.4" font-size="4.1" fill="#555" stroke="#555" stroke-width="0.03" text-anchor="middle" font-weight="normal" font-style="normal">36</text>
<text x="120.29999999999998" y="242.6" font-size="4.9" fill="#4a88ba" stroke="#4a88ba" stroke-width="0.05" text-anchor="middle" font-weight="normal" font-style="normal">16</text>
<text x="120.29999999999998" y="250.1" font-size="4.9" fill="#ea6676" stroke="#ea6676" stroke-width="0.05" text-anchor="middle" font-weight="normal" font-style="normal">3</text>
<line x1="120.29999999999998" y1="253.3" x2="120.29999999999998" y2="254.3" stroke="#555" stroke-width="0.35"/>
<text x="120.29999999999998" y="258.4" font-size="4.1" fill="#555" stroke="#555" stroke-width="0.03" text-anchor="middle" font-weight="normal" font-style="normal">48</text>
<text x="142.65" y="242.6" font-size="4.9" fill="#4a88ba" stroke="#4a88ba" stroke-width="0.05" text-anchor="middle" font-weight="normal" font-style="normal">5</text>
<text x="142.65" y="250.1" font-size="4.9" fill="#ea6676" stroke="#ea6676" stroke-width="0.05" text-anchor="middle" font-weight="normal" font-style="normal">0</text>
<line x1="142.65" y1="253.3" x2="142.65" y2="254.3" stroke="#555" stroke-width="0.35"/>
<text x="142.65" y="258.4" font-size="4.1" fill="#555" stroke="#555" stroke-width="0.03" text-anchor="middle" font-weight="normal" font-style="normal">60</text>
<text x="165.0" y="242.6" font-size="4.9" fill="#4a88ba" stroke="#4a88ba" stroke-width="0.05" text-anchor="middle" font-weight="normal" font-style="normal">0</text>
<text x="165.0" y="250.1" font-size="4.9" fill="#ea6676" stroke="#ea6676" stroke-width="0.05" text-anchor="middle" font-weight="normal" font-style="normal">0</text>
<line x1="165.0" y1="253.3" x2="165.0" y2="254.3" stroke="#555" stroke-width="0.35"/>
<text x="165.0" y="258.4" font-size="4.1" fill="#555" stroke="#555" stroke-width="0.03" text-anchor="middle" font-weight="normal" font-style="normal">72</text>
<text x="104" y="263.4" font-size="4.8" fill="#222" stroke="#222" stroke-width="0.06" text-anchor="middle" font-weight="normal" font-style="normal">Time (months)</text>
<rect x="233.3" y="137.2" width="164.39999999999998" height="79.30000000000001" fill="#ffffff" stroke="#c4c4c4" stroke-width="0.5"/>
<line x1="240.9" y1="137.2" x2="240.9" y2="216.5" stroke="#ebebeb" stroke-width="0.45"/>
<line x1="252.07500000000002" y1="137.2" x2="252.07500000000002" y2="216.5" stroke="#ebebeb" stroke-width="0.25"/>
<line x1="263.25" y1="137.2" x2="263.25" y2="216.5" stroke="#ebebeb" stroke-width="0.45"/>
<line x1="274.425" y1="137.2" x2="274.425" y2="216.5" stroke="#ebebeb" stroke-width="0.25"/>
<line x1="285.6" y1="137.2" x2="285.6" y2="216.5" stroke="#ebebeb" stroke-width="0.45"/>
<line x1="296.775" y1="137.2" x2="296.775" y2="216.5" stroke="#ebebeb" stroke-width="0.25"/>
<line x1="307.95" y1="137.2" x2="307.95" y2="216.5" stroke="#ebebeb" stroke-width="0.45"/>
<line x1="319.125" y1="137.2" x2="319.125" y2="216.5" stroke="#ebebeb" stroke-width="0.25"/>
<line x1="330.3" y1="137.2" x2="330.3" y2="216.5" stroke="#ebebeb" stroke-width="0.45"/>
<line x1="341.475" y1="137.2" x2="341.475" y2="216.5" stroke="#ebebeb" stroke-width="0.25"/>
<line x1="352.65" y1="137.2" x2="352.65" y2="216.5" stroke="#ebebeb" stroke-width="0.45"/>
<line x1="363.82500000000005" y1="137.2" x2="363.82500000000005" y2="216.5" stroke="#ebebeb" stroke-width="0.25"/>
<line x1="375.0" y1="137.2" x2="375.0" y2="216.5" stroke="#ebebeb" stroke-width="0.45"/>
<line x1="233.3" y1="212.6" x2="397.7" y2="212.6" stroke="#ebebeb" stroke-width="0.45"/>
<line x1="233.3" y1="203.65" x2="397.7" y2="203.65" stroke="#ebebeb" stroke-width="0.25"/>
<line x1="233.3" y1="194.7" x2="397.7" y2="194.7" stroke="#ebebeb" stroke-width="0.45"/>
<line x1="233.3" y1="185.75" x2="397.7" y2="185.75" stroke="#ebebeb" stroke-width="0.25"/>
<line x1="233.3" y1="176.8" x2="397.7" y2="176.8" stroke="#ebebeb" stroke-width="0.45"/>
<line x1="233.3" y1="167.85" x2="397.7" y2="167.85" stroke="#ebebeb" stroke-width="0.25"/>
<line x1="233.3" y1="158.9" x2="397.7" y2="158.9" stroke="#ebebeb" stroke-width="0.45"/>
<line x1="233.3" y1="149.95" x2="397.7" y2="149.95" stroke="#ebebeb" stroke-width="0.25"/>
<line x1="233.3" y1="141.0" x2="397.7" y2="141.0" stroke="#ebebeb" stroke-width="0.45"/>
<path d="M241.8,140.1 L243.1,140.47 L244.4,140.85 L245.7,141.22 L247.0,141.59 L248.3,141.97 L249.6,142.49 L250.9,143.06 L252.2,143.63 L253.5,144.2 L254.8,144.77 L256.1,145.35 L257.4,145.93 L258.7,146.52 L260.0,147.1 L261.3,147.68 L262.6,148.25 L263.9,148.77 L265.2,149.29 L266.5,149.81 L267.8,150.34 L269.1,151.55 L270.4,152.9 L271.7,153.92 L273.0,153.86 L274.3,153.8 L275.6,153.85 L276.9,154.04 L278.2,154.22 L279.5,154.5 L280.8,154.93 L282.1,155.36 L283.4,155.79 L284.7,157.09 L286.0,158.55 L287.3,160.01 L288.6,160.37 L289.9,160.72 L291.2,161.08 L292.5,161.44 L293.8,161.6 L295.1,161.74 L296.4,161.87 L297.7,162.0 L299.0,162.13 L300.3,162.26 L301.6,162.39 L302.9,162.52 L304.2,162.82 L305.5,164.03 L306.8,165.24 L308.1,166.46 L309.4,167.71 L310.7,168.95 L312.0,170.2 L313.3,171.36 L314.6,171.49 L315.9,171.62 L317.2,171.75 L318.5,171.89 L319.8,172.02 L321.1,172.15 L322.4,172.38 L323.7,173.74 L324,174.05 L324,173 L362.5,173 L362.5,194 L324,194 324,194.05 L323.7,193.71 L322.4,192.24 L321.1,191.91 L319.8,191.67 L318.5,191.43 L317.2,191.19 L315.9,190.95 L314.6,190.71 L313.3,190.47 L312.0,189.2 L310.7,187.85 L309.4,186.49 L308.1,185.14 L306.8,183.8 L305.5,182.49 L304.2,181.17 L302.9,180.77 L301.6,180.53 L300.3,180.29 L299.0,180.05 L297.7,179.82 L296.4,179.58 L295.1,179.34 L293.8,179.11 L292.5,178.84 L291.2,178.38 L289.9,177.91 L288.6,177.45 L287.3,176.99 L286.0,175.43 L284.7,173.87 L283.4,172.46 L282.1,171.93 L280.8,171.4 L279.5,170.86 L278.2,170.48 L276.9,170.19 L275.6,169.9 L274.3,169.47 L273.0,168.93 L271.7,168.39 L270.4,166.77 L269.1,164.83 L267.8,163.01 L266.5,161.89 L265.2,160.77 L263.9,159.65 L262.6,158.53 L261.3,157.36 L260.0,156.19 L258.7,155.01 L257.4,153.84 L256.1,152.66 L254.8,151.49 L253.5,150.33 L252.2,149.17 L250.9,148.01 L249.6,146.84 L248.3,145.73 L247.0,144.76 L245.7,143.8 L244.4,142.83 L243.1,141.87 L241.8,140.9 Z" fill="#f07f8c" fill-opacity="0.38"/>
<path d="M241.8,140.5 H243.1 V141.17 H244.4 V141.84 H245.7 V142.51 H247.0 V143.18 H248.3 V143.85 H249.6 V144.67 H250.9 V145.53 H252.2 V146.4 H253.5 V147.27 H254.8 V148.13 H256.1 V149.01 H257.4 V149.89 H258.7 V150.76 H260.0 V151.64 H261.3 V152.52 H262.6 V153.39 H263.9 V154.21 H265.2 V155.03 H266.5 V155.85 H267.8 V156.67 H269.1 V158.19 H270.4 V159.84 H271.7 V161.16 H273.0 V161.39 H274.3 V161.63 H275.6 V161.87 H276.9 V162.11 H278.2 V162.35 H279.5 V162.68 H280.8 V163.17 H282.1 V163.65 H283.4 V164.13 H284.7 V165.48 H286.0 V166.99 H287.3 V168.5 H288.6 V168.91 H289.9 V169.32 H291.2 V169.73 H292.5 V170.14 H293.8 V170.36 H295.1 V170.54 H296.4 V170.72 H297.7 V170.91 H299.0 V171.09 H300.3 V171.28 H301.6 V171.46 H302.9 V171.64 H304.2 V171.99 H305.5 V173.26 H306.8 V174.52 H308.1 V175.8 H309.4 V177.1 H310.7 V178.4 H312.0 V179.7 H313.3 V180.91 H314.6 V181.1 H315.9 V181.29 H317.2 V181.47 H318.5 V181.66 H319.8 V181.84 H321.1 V182.03 H322.4 V182.31 H323.7 V183.73 H324 V184.05 H362.5" fill="none" stroke="#e05a68" stroke-width="1.0"/>
<line x1="328" y1="183.7" x2="328" y2="185.5" stroke="#e05a68" stroke-width="0.45"/>
<line x1="333" y1="183.7" x2="333" y2="185.5" stroke="#e05a68" stroke-width="0.45"/>
<line x1="338" y1="183.7" x2="338" y2="185.5" stroke="#e05a68" stroke-width="0.45"/>
<line x1="343" y1="183.7" x2="343" y2="185.5" stroke="#e05a68" stroke-width="0.45"/>
<line x1="348" y1="183.7" x2="348" y2="185.5" stroke="#e05a68" stroke-width="0.45"/>
<line x1="353" y1="183.7" x2="353" y2="185.5" stroke="#e05a68" stroke-width="0.45"/>
<path d="M241.8,140.1 L243.1,140.27 L244.4,140.44 L245.7,140.61 L247.0,140.78 L248.3,140.95 L249.6,141.12 L250.9,141.3 L252.2,141.47 L253.5,141.63 L254.8,141.77 L256.1,141.91 L257.4,142.05 L258.7,142.19 L260.0,142.32 L261.3,142.5 L262.6,142.67 L263.9,142.85 L265.2,142.98 L266.5,143.06 L267.8,143.15 L269.1,143.24 L270.4,143.35 L271.7,143.51 L273.0,143.67 L274.3,143.83 L275.6,144.0 L276.9,144.16 L278.2,144.32 L279.5,144.48 L280.8,144.64 L282.1,144.74 L283.4,144.79 L284.7,144.84 L286.0,144.88 L287.3,144.92 L288.6,144.96 L289.9,145.0 L291.2,145.04 L292.5,145.08 L293.8,145.19 L295.1,145.31 L296.4,145.43 L297.7,145.55 L299.0,145.67 L300.3,145.79 L301.6,145.9 L302.9,146.01 L304.2,146.13 L305.5,146.34 L306.8,146.55 L308.1,146.76 L309.4,146.96 L310.7,147.17 L312.0,147.38 L313.3,147.59 L314.6,147.79 L315.9,148.32 L317.2,149.55 L318.5,150.78 L319.8,152.01 L321.1,153.2 L322.4,154.38 L323.7,155.32 L325.0,155.46 L326.3,155.6 L327.6,155.73 L328.9,155.87 L330.2,156.08 L331.5,156.3 L332.8,156.51 L334.1,156.73 L335.4,156.95 L336.7,157.4 L338.0,158.06 L339.3,158.73 L340.5,159.34 L340.5,157.6 L372.7,157.6 L372.7,175.1 L340.5,175.1 340.5,175.06 L339.3,174.23 L338.0,173.34 L336.7,172.44 L335.4,171.75 L334.1,171.29 L332.8,170.84 L331.5,170.39 L330.2,169.94 L328.9,169.49 L327.6,169.12 L326.3,168.74 L325.0,168.37 L323.7,168.0 L322.4,166.82 L321.1,165.4 L319.8,163.98 L318.5,162.55 L317.2,161.13 L315.9,159.7 L314.6,158.98 L313.3,158.58 L312.0,158.18 L310.7,157.78 L309.4,157.37 L308.1,156.97 L306.8,156.57 L305.5,156.16 L304.2,155.76 L302.9,155.44 L301.6,155.14 L300.3,154.83 L299.0,154.54 L297.7,154.24 L296.4,153.95 L295.1,153.66 L293.8,153.36 L292.5,153.08 L291.2,152.87 L289.9,152.65 L288.6,152.44 L287.3,152.23 L286.0,152.01 L284.7,151.8 L283.4,151.6 L282.1,151.39 L280.8,151.14 L279.5,150.82 L278.2,150.5 L276.9,150.19 L275.6,149.87 L274.3,149.55 L273.0,149.23 L271.7,148.92 L270.4,148.6 L269.1,148.33 L267.8,148.09 L266.5,147.84 L265.2,147.6 L263.9,147.32 L262.6,146.99 L261.3,146.65 L260.0,146.32 L258.7,145.96 L257.4,145.59 L256.1,145.22 L254.8,144.85 L253.5,144.49 L252.2,144.09 L250.9,143.7 L249.6,143.3 L248.3,142.9 L247.0,142.5 L245.7,142.1 L244.4,141.7 L243.1,141.3 L241.8,140.9 Z" fill="#6f9fc6" fill-opacity="0.4"/>
<path d="M241.8,140.5 H243.1 V140.79 H244.4 V141.07 H245.7 V141.36 H247.0 V141.64 H248.3 V141.93 H249.6 V142.21 H250.9 V142.5 H252.2 V142.78 H253.5 V143.06 H254.8 V143.31 H256.1 V143.56 H257.4 V143.82 H258.7 V144.07 H260.0 V144.32 H261.3 V144.58 H262.6 V144.83 H263.9 V145.08 H265.2 V145.29 H266.5 V145.45 H267.8 V145.62 H269.1 V145.79 H270.4 V145.97 H271.7 V146.21 H273.0 V146.45 H274.3 V146.69 H275.6 V146.93 H276.9 V147.17 H278.2 V147.41 H279.5 V147.65 H280.8 V147.89 H282.1 V148.07 H283.4 V148.19 H284.7 V148.32 H286.0 V148.45 H287.3 V148.57 H288.6 V148.7 H289.9 V148.83 H291.2 V148.95 H292.5 V149.08 H293.8 V149.28 H295.1 V149.48 H296.4 V149.69 H297.7 V149.9 H299.0 V150.1 H300.3 V150.31 H301.6 V150.52 H302.9 V150.72 H304.2 V150.95 H305.5 V151.25 H306.8 V151.56 H308.1 V151.86 H309.4 V152.17 H310.7 V152.47 H312.0 V152.78 H313.3 V153.08 H314.6 V153.39 H315.9 V154.01 H317.2 V155.34 H318.5 V156.67 H319.8 V158.0 H321.1 V159.3 H322.4 V160.6 H323.7 V161.66 H325.0 V161.91 H326.3 V162.17 H327.6 V162.42 H328.9 V162.68 H330.2 V163.01 H331.5 V163.34 H332.8 V163.68 H334.1 V164.01 H335.4 V164.35 H336.7 V164.92 H338.0 V165.7 H339.3 V166.48 H340.5 V167.2 H372.7" fill="none" stroke="#3b6b91" stroke-width="1.0"/>
<line x1="343.5" y1="166.29999999999998" x2="343.5" y2="168.1" stroke="#3b6b91" stroke-width="0.45"/>
<line x1="347.7" y1="166.29999999999998" x2="347.7" y2="168.1" stroke="#3b6b91" stroke-width="0.45"/>
<line x1="351.9" y1="166.29999999999998" x2="351.9" y2="168.1" stroke="#3b6b91" stroke-width="0.45"/>
<line x1="356.1" y1="166.29999999999998" x2="356.1" y2="168.1" stroke="#3b6b91" stroke-width="0.45"/>
<line x1="360.3" y1="166.29999999999998" x2="360.3" y2="168.1" stroke="#3b6b91" stroke-width="0.45"/>
<line x1="364.5" y1="166.29999999999998" x2="364.5" y2="168.1" stroke="#3b6b91" stroke-width="0.45"/>
<line x1="368.7" y1="166.29999999999998" x2="368.7" y2="168.1" stroke="#3b6b91" stroke-width="0.45"/>
<line x1="232.0" y1="141.0" x2="233.3" y2="141.0" stroke="#555" stroke-width="0.45"/>
<text x="231.5" y="143.1" font-size="5.9" fill="#555" stroke="#555" stroke-width="0.05" text-anchor="end" font-weight="normal" font-style="normal">1.00</text>
<line x1="232.0" y1="158.9" x2="233.3" y2="158.9" stroke="#555" stroke-width="0.45"/>
<text x="231.5" y="161.0" font-size="5.9" fill="#555" stroke="#555" stroke-width="0.05" text-anchor="end" font-weight="normal" font-style="normal">0.75</text>
<line x1="232.0" y1="176.8" x2="233.3" y2="176.8" stroke="#555" stroke-width="0.45"/>
<text x="231.5" y="178.9" font-size="5.9" fill="#555" stroke="#555" stroke-width="0.05" text-anchor="end" font-weight="normal" font-style="normal">0.50</text>
<line x1="232.0" y1="194.7" x2="233.3" y2="194.7" stroke="#555" stroke-width="0.45"/>
<text x="231.5" y="196.79999999999998" font-size="5.9" fill="#555" stroke="#555" stroke-width="0.05" text-anchor="end" font-weight="normal" font-style="normal">0.25</text>
<line x1="232.0" y1="212.6" x2="233.3" y2="212.6" stroke="#555" stroke-width="0.45"/>
<text x="231.5" y="214.7" font-size="5.9" fill="#555" stroke="#555" stroke-width="0.05" text-anchor="end" font-weight="normal" font-style="normal">0.00</text>
<line x1="240.9" y1="216.5" x2="240.9" y2="217.8" stroke="#555" stroke-width="0.45"/>
<text x="240.9" y="222.6" font-size="5.9" fill="#555" stroke="#555" stroke-width="0.05" text-anchor="middle" font-weight="normal" font-style="normal">0</text>
<line x1="263.25" y1="216.5" x2="263.25" y2="217.8" stroke="#555" stroke-width="0.45"/>
<text x="263.25" y="222.6" font-size="5.9" fill="#555" stroke="#555" stroke-width="0.05" text-anchor="middle" font-weight="normal" font-style="normal">12</text>
<line x1="285.6" y1="216.5" x2="285.6" y2="217.8" stroke="#555" stroke-width="0.45"/>
<text x="285.6" y="222.6" font-size="5.9" fill="#555" stroke="#555" stroke-width="0.05" text-anchor="middle" font-weight="normal" font-style="normal">24</text>
<line x1="307.95" y1="216.5" x2="307.95" y2="217.8" stroke="#555" stroke-width="0.45"/>
<text x="307.95" y="222.6" font-size="5.9" fill="#555" stroke="#555" stroke-width="0.05" text-anchor="middle" font-weight="normal" font-style="normal">36</text>
<line x1="330.3" y1="216.5" x2="330.3" y2="217.8" stroke="#555" stroke-width="0.45"/>
<text x="330.3" y="222.6" font-size="5.9" fill="#555" stroke="#555" stroke-width="0.05" text-anchor="middle" font-weight="normal" font-style="normal">48</text>
<line x1="352.65" y1="216.5" x2="352.65" y2="217.8" stroke="#555" stroke-width="0.45"/>
<text x="352.65" y="222.6" font-size="5.9" fill="#555" stroke="#555" stroke-width="0.05" text-anchor="middle" font-weight="normal" font-style="normal">60</text>
<line x1="375.0" y1="216.5" x2="375.0" y2="217.8" stroke="#555" stroke-width="0.45"/>
<text x="375.0" y="222.6" font-size="5.9" fill="#555" stroke="#555" stroke-width="0.05" text-anchor="middle" font-weight="normal" font-style="normal">72</text>
<text x="315.4" y="230.1" font-size="7.0" fill="#1a1a1a" stroke="#1a1a1a" stroke-width="0.04" text-anchor="middle" font-weight="normal" font-style="normal">Time (months)</text>
<text x="216.0" y="176.6" font-size="6.9" fill="#333" stroke="#333" stroke-width="0.03" text-anchor="middle" font-weight="normal" font-style="normal" transform="rotate(-90 216.0 176.6)">Probability of OS</text>
<text x="353.6" y="149.8" font-size="6.1" fill="#1a1a1a" stroke="#1a1a1a" stroke-width="0.04" text-anchor="start" font-weight="normal" font-style="normal"><tspan font-style="italic">P</tspan> &lt; 0.0001</text>
<rect x="239.8" y="200.2" width="4.6" height="3.6" fill="#c3d8e7" stroke="none" stroke-width="0.4"/>
<line x1="239.8" y1="202.0" x2="244.4" y2="202.0" stroke="#3b6b91" stroke-width="0.8"/>
<text x="246.8" y="204.0" font-size="6.3" fill="#222" stroke="#222" stroke-width="0.03" text-anchor="start" font-weight="normal" font-style="normal">CPC−low</text>
<rect x="239.8" y="208.5" width="4.6" height="3.6" fill="#f8cdd3" stroke="none" stroke-width="0.4"/>
<line x1="239.8" y1="210.3" x2="244.4" y2="210.3" stroke="#e05a68" stroke-width="0.8"/>
<text x="246.8" y="212.7" font-size="6.3" fill="#222" stroke="#222" stroke-width="0.03" text-anchor="start" font-weight="normal" font-style="normal">CPC−high</text>
<rect x="233.3" y="235.8" width="164.39999999999998" height="17.5" fill="#ffffff" stroke="#c4c4c4" stroke-width="0.5"/>
<line x1="240.9" y1="235.8" x2="240.9" y2="253.3" stroke="#f0f0f0" stroke-width="0.3"/>
<line x1="252.07500000000002" y1="235.8" x2="252.07500000000002" y2="253.3" stroke="#f0f0f0" stroke-width="0.3"/>
<line x1="263.25" y1="235.8" x2="263.25" y2="253.3" stroke="#f0f0f0" stroke-width="0.3"/>
<line x1="274.425" y1="235.8" x2="274.425" y2="253.3" stroke="#f0f0f0" stroke-width="0.3"/>
<line x1="285.6" y1="235.8" x2="285.6" y2="253.3" stroke="#f0f0f0" stroke-width="0.3"/>
<line x1="296.775" y1="235.8" x2="296.775" y2="253.3" stroke="#f0f0f0" stroke-width="0.3"/>
<line x1="307.95" y1="235.8" x2="307.95" y2="253.3" stroke="#f0f0f0" stroke-width="0.3"/>
<line x1="319.125" y1="235.8" x2="319.125" y2="253.3" stroke="#f0f0f0" stroke-width="0.3"/>
<line x1="330.3" y1="235.8" x2="330.3" y2="253.3" stroke="#f0f0f0" stroke-width="0.3"/>
<line x1="341.475" y1="235.8" x2="341.475" y2="253.3" stroke="#f0f0f0" stroke-width="0.3"/>
<line x1="352.65" y1="235.8" x2="352.65" y2="253.3" stroke="#f0f0f0" stroke-width="0.3"/>
<line x1="363.82500000000005" y1="235.8" x2="363.82500000000005" y2="253.3" stroke="#f0f0f0" stroke-width="0.3"/>
<line x1="375.0" y1="235.8" x2="375.0" y2="253.3" stroke="#f0f0f0" stroke-width="0.3"/>
<text x="234.2" y="234.7" font-size="4.9" fill="#222" stroke="#222" stroke-width="0.06" text-anchor="start" font-weight="normal" font-style="normal">Number at risk</text>
<text x="232.6" y="242.6" font-size="4.9" fill="#4a88ba" stroke="#4a88ba" stroke-width="0.05" text-anchor="end" font-weight="normal" font-style="normal">CPC−low</text>
<text x="232.6" y="250.1" font-size="4.9" fill="#ea6676" stroke="#ea6676" stroke-width="0.05" text-anchor="end" font-weight="normal" font-style="normal">CPC−high</text>
<text x="240.9" y="242.6" font-size="4.9" fill="#4a88ba" stroke="#4a88ba" stroke-width="0.05" text-anchor="middle" font-weight="normal" font-style="normal">208</text>
<text x="240.9" y="250.1" font-size="4.9" fill="#ea6676" stroke="#ea6676" stroke-width="0.05" text-anchor="middle" font-weight="normal" font-style="normal">89</text>
<line x1="240.9" y1="253.3" x2="240.9" y2="254.3" stroke="#555" stroke-width="0.35"/>
<text x="240.9" y="258.4" font-size="4.1" fill="#555" stroke="#555" stroke-width="0.03" text-anchor="middle" font-weight="normal" font-style="normal">0</text>
<text x="263.25" y="242.6" font-size="4.9" fill="#4a88ba" stroke="#4a88ba" stroke-width="0.05" text-anchor="middle" font-weight="normal" font-style="normal">165</text>
<text x="263.25" y="250.1" font-size="4.9" fill="#ea6676" stroke="#ea6676" stroke-width="0.05" text-anchor="middle" font-weight="normal" font-style="normal">60</text>
<line x1="263.25" y1="253.3" x2="263.25" y2="254.3" stroke="#555" stroke-width="0.35"/>
<text x="263.25" y="258.4" font-size="4.1" fill="#555" stroke="#555" stroke-width="0.03" text-anchor="middle" font-weight="normal" font-style="normal">12</text>
<text x="285.6" y="242.6" font-size="4.9" fill="#4a88ba" stroke="#4a88ba" stroke-width="0.05" text-anchor="middle" font-weight="normal" font-style="normal">105</text>
<text x="285.6" y="250.1" font-size="4.9" fill="#ea6676" stroke="#ea6676" stroke-width="0.05" text-anchor="middle" font-weight="normal" font-style="normal">44</text>
<line x1="285.6" y1="253.3" x2="285.6" y2="254.3" stroke="#555" stroke-width="0.35"/>
<text x="285.6" y="258.4" font-size="4.1" fill="#555" stroke="#555" stroke-width="0.03" text-anchor="middle" font-weight="normal" font-style="normal">24</text>
<text x="307.95" y="242.6" font-size="4.9" fill="#4a88ba" stroke="#4a88ba" stroke-width="0.05" text-anchor="middle" font-weight="normal" font-style="normal">59</text>
<text x="307.95" y="250.1" font-size="4.9" fill="#ea6676" stroke="#ea6676" stroke-width="0.05" text-anchor="middle" font-weight="normal" font-style="normal">15</text>
<line x1="307.95" y1="253.3" x2="307.95" y2="254.3" stroke="#555" stroke-width="0.35"/>
<text x="307.95" y="258.4" font-size="4.1" fill="#555" stroke="#555" stroke-width="0.03" text-anchor="middle" font-weight="normal" font-style="normal">36</text>
<text x="330.3" y="242.6" font-size="4.9" fill="#4a88ba" stroke="#4a88ba" stroke-width="0.05" text-anchor="middle" font-weight="normal" font-style="normal">31</text>
<text x="330.3" y="250.1" font-size="4.9" fill="#ea6676" stroke="#ea6676" stroke-width="0.05" text-anchor="middle" font-weight="normal" font-style="normal">6</text>
<line x1="330.3" y1="253.3" x2="330.3" y2="254.3" stroke="#555" stroke-width="0.35"/>
<text x="330.3" y="258.4" font-size="4.1" fill="#555" stroke="#555" stroke-width="0.03" text-anchor="middle" font-weight="normal" font-style="normal">48</text>
<text x="352.65" y="242.6" font-size="4.9" fill="#4a88ba" stroke="#4a88ba" stroke-width="0.05" text-anchor="middle" font-weight="normal" font-style="normal">9</text>
<text x="352.65" y="250.1" font-size="4.9" fill="#ea6676" stroke="#ea6676" stroke-width="0.05" text-anchor="middle" font-weight="normal" font-style="normal">4</text>
<line x1="352.65" y1="253.3" x2="352.65" y2="254.3" stroke="#555" stroke-width="0.35"/>
<text x="352.65" y="258.4" font-size="4.1" fill="#555" stroke="#555" stroke-width="0.03" text-anchor="middle" font-weight="normal" font-style="normal">60</text>
<text x="375.0" y="242.6" font-size="4.9" fill="#4a88ba" stroke="#4a88ba" stroke-width="0.05" text-anchor="middle" font-weight="normal" font-style="normal">0</text>
<text x="375.0" y="250.1" font-size="4.9" fill="#ea6676" stroke="#ea6676" stroke-width="0.05" text-anchor="middle" font-weight="normal" font-style="normal">0</text>
<line x1="375.0" y1="253.3" x2="375.0" y2="254.3" stroke="#555" stroke-width="0.35"/>
<text x="375.0" y="258.4" font-size="4.1" fill="#555" stroke="#555" stroke-width="0.03" text-anchor="middle" font-weight="normal" font-style="normal">72</text>
<text x="314" y="263.4" font-size="4.8" fill="#222" stroke="#222" stroke-width="0.06" text-anchor="middle" font-weight="normal" font-style="normal">Time (months)</text>
</svg></body></html>
